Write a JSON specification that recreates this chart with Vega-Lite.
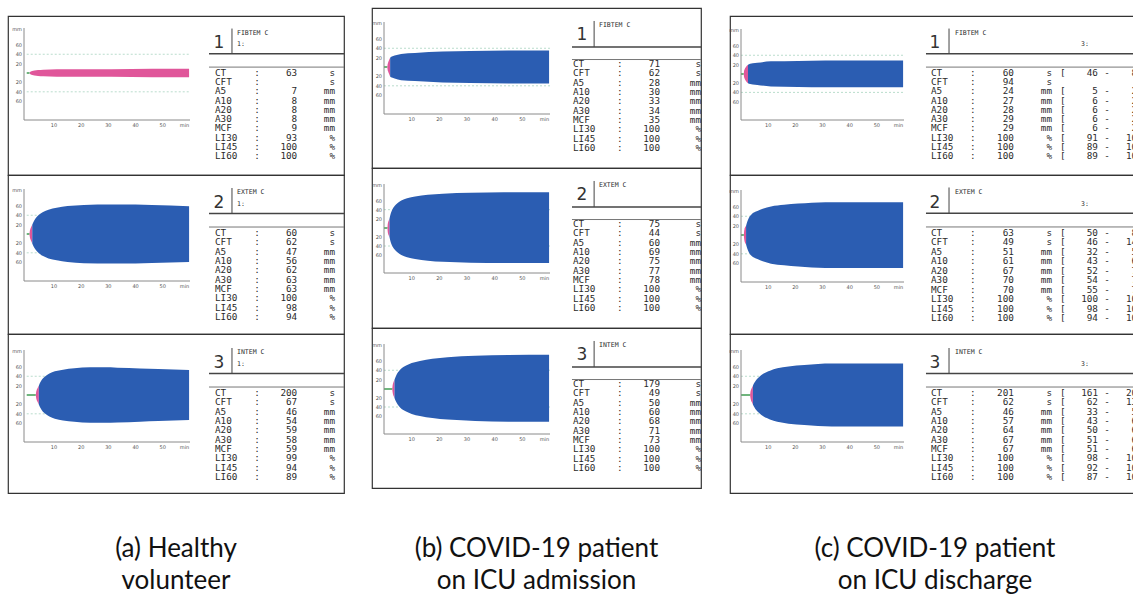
{
"$schema": "https://vega.github.io/schema/vega-lite/v6.json",
"background": "white",
"padding": {"left": 7, "top": 7, "right": 0, "bottom": 0},
"spacing": 25,
"config": {
"view": {"stroke": "#333333", "strokeWidth": 1.2},
"text": {"font": "DejaVu Sans Mono", "fontSize": 9.3, "baseline": "middle", "color": "#2b2b2b"},
"area": {"interpolate": "monotone", "opacity": 1}
},
"datasets": {
"xticks": [{"v": 600, "lab": "10"}, {"v": 1200, "lab": "20"}, {"v": 1800, "lab": "30"}, {"v": 2400, "lab": "40"}, {"v": 3000, "lab": "50"}, {"v": 3480, "lab": "min"}],
"yticks": [{"v": 20, "lab": "20"}, {"v": 40, "lab": "40"}, {"v": 60, "lab": "60"}, {"v": 93, "lab": "mm"}],
"caps": [
{"p": "a", "caption": "(a) Healthy\nvolunteer"},
{"p": "b", "caption": "(b) COVID-19 patient\non ICU admission"},
{"p": "c", "caption": "(c) COVID-19 patient\non ICU discharge"}
],
"rows": [
{"p":"a","kind":"head","test":"FIBTEM","num":"1","name":"FIBTEM C","sub":"1:","ct":63},
{"p":"a","kind":"head","test":"EXTEM","num":"2","name":"EXTEM C","sub":"1:","ct":60},
{"p":"a","kind":"head","test":"INTEM","num":"3","name":"INTEM C","sub":"1:","ct":200},
{"p":"b","kind":"head","test":"FIBTEM","num":"1","name":"FIBTEM C","ct":71},
{"p":"b","kind":"head","test":"EXTEM","num":"2","name":"EXTEM C","ct":75},
{"p":"b","kind":"head","test":"INTEM","num":"3","name":"INTEM C","ct":179},
{"p":"c","kind":"head","test":"FIBTEM","num":"1","name":"FIBTEM C","sub":"3:","ct":60},
{"p":"c","kind":"head","test":"EXTEM","num":"2","name":"EXTEM C","sub":"3:","ct":63},
{"p":"c","kind":"head","test":"INTEM","num":"3","name":"INTEM C","sub":"3:","ct":201},

{"p":"a","kind":"curve","test":"FIBTEM","ph":"CFT","t":63,"amp":0},
{"p":"a","kind":"curve","test":"FIBTEM","ph":"CFT","t":72,"amp":1.5},
{"p":"a","kind":"curve","test":"FIBTEM","ph":"CFT","t":90,"amp":3},
{"p":"a","kind":"curve","test":"FIBTEM","ph":"CFT","t":120,"amp":4.3},
{"p":"a","kind":"curve","test":"FIBTEM","ph":"CFT","t":170,"amp":5.4},
{"p":"a","kind":"curve","test":"FIBTEM","ph":"CFT","t":250,"amp":6.3},
{"p":"a","kind":"curve","test":"FIBTEM","ph":"CFT","t":363,"amp":7},
{"p":"a","kind":"curve","test":"FIBTEM","ph":"CFT","t":663,"amp":8},
{"p":"a","kind":"curve","test":"FIBTEM","ph":"CFT","t":1263,"amp":8},
{"p":"a","kind":"curve","test":"FIBTEM","ph":"CFT","t":1863,"amp":8.2},
{"p":"a","kind":"curve","test":"FIBTEM","ph":"CFT","t":2763,"amp":9},
{"p":"a","kind":"curve","test":"FIBTEM","ph":"CFT","t":3580,"amp":9},

{"p":"a","kind":"curve","test":"EXTEM","ph":"CFT","t":60,"amp":0},
{"p":"a","kind":"curve","test":"EXTEM","ph":"CFT","t":66,"amp":5},
{"p":"a","kind":"curve","test":"EXTEM","ph":"CFT","t":78,"amp":10},
{"p":"a","kind":"curve","test":"EXTEM","ph":"CFT","t":98,"amp":15},
{"p":"a","kind":"curve","test":"EXTEM","ph":"CFT","t":122,"amp":20},
{"p":"a","kind":"curve","test":"EXTEM","ph":"MCF","t":122,"amp":20},
{"p":"a","kind":"curve","test":"EXTEM","ph":"MCF","t":160,"amp":28},
{"p":"a","kind":"curve","test":"EXTEM","ph":"MCF","t":210,"amp":35},
{"p":"a","kind":"curve","test":"EXTEM","ph":"MCF","t":270,"amp":41},
{"p":"a","kind":"curve","test":"EXTEM","ph":"MCF","t":360,"amp":47},
{"p":"a","kind":"curve","test":"EXTEM","ph":"MCF","t":480,"amp":52},
{"p":"a","kind":"curve","test":"EXTEM","ph":"MCF","t":660,"amp":56},
{"p":"a","kind":"curve","test":"EXTEM","ph":"MCF","t":900,"amp":59.5},
{"p":"a","kind":"curve","test":"EXTEM","ph":"MCF","t":1260,"amp":62},
{"p":"a","kind":"curve","test":"EXTEM","ph":"MCF","t":1860,"amp":63},
{"p":"a","kind":"curve","test":"EXTEM","ph":"MCF","t":2400,"amp":62.8},
{"p":"a","kind":"curve","test":"EXTEM","ph":"MCF","t":2760,"amp":61.7},
{"p":"a","kind":"curve","test":"EXTEM","ph":"MCF","t":3580,"amp":59.4},

{"p":"a","kind":"curve","test":"INTEM","ph":"CFT","t":200,"amp":0},
{"p":"a","kind":"curve","test":"INTEM","ph":"CFT","t":206,"amp":5},
{"p":"a","kind":"curve","test":"INTEM","ph":"CFT","t":218,"amp":10},
{"p":"a","kind":"curve","test":"INTEM","ph":"CFT","t":240,"amp":15},
{"p":"a","kind":"curve","test":"INTEM","ph":"CFT","t":267,"amp":20},
{"p":"a","kind":"curve","test":"INTEM","ph":"MCF","t":267,"amp":20},
{"p":"a","kind":"curve","test":"INTEM","ph":"MCF","t":300,"amp":27},
{"p":"a","kind":"curve","test":"INTEM","ph":"MCF","t":345,"amp":34},
{"p":"a","kind":"curve","test":"INTEM","ph":"MCF","t":410,"amp":40},
{"p":"a","kind":"curve","test":"INTEM","ph":"MCF","t":500,"amp":46},
{"p":"a","kind":"curve","test":"INTEM","ph":"MCF","t":620,"amp":50.5},
{"p":"a","kind":"curve","test":"INTEM","ph":"MCF","t":800,"amp":54},
{"p":"a","kind":"curve","test":"INTEM","ph":"MCF","t":1050,"amp":57},
{"p":"a","kind":"curve","test":"INTEM","ph":"MCF","t":1400,"amp":59},
{"p":"a","kind":"curve","test":"INTEM","ph":"MCF","t":1700,"amp":59},
{"p":"a","kind":"curve","test":"INTEM","ph":"MCF","t":2000,"amp":58.4},
{"p":"a","kind":"curve","test":"INTEM","ph":"MCF","t":2500,"amp":56.8},
{"p":"a","kind":"curve","test":"INTEM","ph":"MCF","t":2900,"amp":55.5},
{"p":"a","kind":"curve","test":"INTEM","ph":"MCF","t":3580,"amp":53.2},

{"p":"b","kind":"curve","test":"FIBTEM","ph":"CFT","t":71,"amp":0},
{"p":"b","kind":"curve","test":"FIBTEM","ph":"CFT","t":76,"amp":4},
{"p":"b","kind":"curve","test":"FIBTEM","ph":"CFT","t":88,"amp":9},
{"p":"b","kind":"curve","test":"FIBTEM","ph":"CFT","t":106,"amp":14},
{"p":"b","kind":"curve","test":"FIBTEM","ph":"CFT","t":133,"amp":20},
{"p":"b","kind":"curve","test":"FIBTEM","ph":"MCF","t":133,"amp":20},
{"p":"b","kind":"curve","test":"FIBTEM","ph":"MCF","t":170,"amp":22.5},
{"p":"b","kind":"curve","test":"FIBTEM","ph":"MCF","t":230,"amp":24.5},
{"p":"b","kind":"curve","test":"FIBTEM","ph":"MCF","t":371,"amp":28},
{"p":"b","kind":"curve","test":"FIBTEM","ph":"MCF","t":671,"amp":30},
{"p":"b","kind":"curve","test":"FIBTEM","ph":"MCF","t":1271,"amp":33},
{"p":"b","kind":"curve","test":"FIBTEM","ph":"MCF","t":1871,"amp":34},
{"p":"b","kind":"curve","test":"FIBTEM","ph":"MCF","t":2700,"amp":35},
{"p":"b","kind":"curve","test":"FIBTEM","ph":"MCF","t":3580,"amp":35},

{"p":"b","kind":"curve","test":"EXTEM","ph":"CFT","t":75,"amp":0},
{"p":"b","kind":"curve","test":"EXTEM","ph":"CFT","t":79,"amp":6},
{"p":"b","kind":"curve","test":"EXTEM","ph":"CFT","t":88,"amp":12},
{"p":"b","kind":"curve","test":"EXTEM","ph":"CFT","t":101,"amp":16},
{"p":"b","kind":"curve","test":"EXTEM","ph":"CFT","t":119,"amp":20},
{"p":"b","kind":"curve","test":"EXTEM","ph":"MCF","t":119,"amp":20},
{"p":"b","kind":"curve","test":"EXTEM","ph":"MCF","t":145,"amp":31},
{"p":"b","kind":"curve","test":"EXTEM","ph":"MCF","t":180,"amp":40},
{"p":"b","kind":"curve","test":"EXTEM","ph":"MCF","t":230,"amp":48},
{"p":"b","kind":"curve","test":"EXTEM","ph":"MCF","t":290,"amp":54},
{"p":"b","kind":"curve","test":"EXTEM","ph":"MCF","t":375,"amp":60},
{"p":"b","kind":"curve","test":"EXTEM","ph":"MCF","t":500,"amp":65},
{"p":"b","kind":"curve","test":"EXTEM","ph":"MCF","t":675,"amp":69},
{"p":"b","kind":"curve","test":"EXTEM","ph":"MCF","t":950,"amp":72.5},
{"p":"b","kind":"curve","test":"EXTEM","ph":"MCF","t":1275,"amp":75},
{"p":"b","kind":"curve","test":"EXTEM","ph":"MCF","t":1875,"amp":77},
{"p":"b","kind":"curve","test":"EXTEM","ph":"MCF","t":2600,"amp":78},
{"p":"b","kind":"curve","test":"EXTEM","ph":"MCF","t":3580,"amp":78},

{"p":"b","kind":"curve","test":"INTEM","ph":"CFT","t":179,"amp":0},
{"p":"b","kind":"curve","test":"INTEM","ph":"CFT","t":184,"amp":5},
{"p":"b","kind":"curve","test":"INTEM","ph":"CFT","t":194,"amp":11},
{"p":"b","kind":"curve","test":"INTEM","ph":"CFT","t":208,"amp":15.5},
{"p":"b","kind":"curve","test":"INTEM","ph":"CFT","t":228,"amp":20},
{"p":"b","kind":"curve","test":"INTEM","ph":"MCF","t":228,"amp":20},
{"p":"b","kind":"curve","test":"INTEM","ph":"MCF","t":260,"amp":28},
{"p":"b","kind":"curve","test":"INTEM","ph":"MCF","t":300,"amp":35},
{"p":"b","kind":"curve","test":"INTEM","ph":"MCF","t":360,"amp":42},
{"p":"b","kind":"curve","test":"INTEM","ph":"MCF","t":479,"amp":50},
{"p":"b","kind":"curve","test":"INTEM","ph":"MCF","t":600,"amp":55.5},
{"p":"b","kind":"curve","test":"INTEM","ph":"MCF","t":779,"amp":60},
{"p":"b","kind":"curve","test":"INTEM","ph":"MCF","t":1050,"amp":64.5},
{"p":"b","kind":"curve","test":"INTEM","ph":"MCF","t":1379,"amp":68},
{"p":"b","kind":"curve","test":"INTEM","ph":"MCF","t":1979,"amp":71},
{"p":"b","kind":"curve","test":"INTEM","ph":"MCF","t":2700,"amp":72.5},
{"p":"b","kind":"curve","test":"INTEM","ph":"MCF","t":3580,"amp":73},

{"p":"c","kind":"curve","test":"FIBTEM","ph":"CFT","t":60,"amp":0},
{"p":"c","kind":"curve","test":"FIBTEM","ph":"CFT","t":66,"amp":5},
{"p":"c","kind":"curve","test":"FIBTEM","ph":"CFT","t":80,"amp":10},
{"p":"c","kind":"curve","test":"FIBTEM","ph":"CFT","t":105,"amp":14.5},
{"p":"c","kind":"curve","test":"FIBTEM","ph":"CFT","t":154,"amp":20},
{"p":"c","kind":"curve","test":"FIBTEM","ph":"MCF","t":154,"amp":20},
{"p":"c","kind":"curve","test":"FIBTEM","ph":"MCF","t":200,"amp":21.8},
{"p":"c","kind":"curve","test":"FIBTEM","ph":"MCF","t":260,"amp":23},
{"p":"c","kind":"curve","test":"FIBTEM","ph":"MCF","t":360,"amp":24},
{"p":"c","kind":"curve","test":"FIBTEM","ph":"MCF","t":660,"amp":27},
{"p":"c","kind":"curve","test":"FIBTEM","ph":"MCF","t":1260,"amp":28},
{"p":"c","kind":"curve","test":"FIBTEM","ph":"MCF","t":1860,"amp":29},
{"p":"c","kind":"curve","test":"FIBTEM","ph":"MCF","t":3580,"amp":29},

{"p":"c","kind":"curve","test":"EXTEM","ph":"CFT","t":63,"amp":0},
{"p":"c","kind":"curve","test":"EXTEM","ph":"CFT","t":67,"amp":6},
{"p":"c","kind":"curve","test":"EXTEM","ph":"CFT","t":76,"amp":12},
{"p":"c","kind":"curve","test":"EXTEM","ph":"CFT","t":90,"amp":16.5},
{"p":"c","kind":"curve","test":"EXTEM","ph":"CFT","t":112,"amp":20},
{"p":"c","kind":"curve","test":"EXTEM","ph":"MCF","t":112,"amp":20},
{"p":"c","kind":"curve","test":"EXTEM","ph":"MCF","t":140,"amp":29},
{"p":"c","kind":"curve","test":"EXTEM","ph":"MCF","t":175,"amp":37},
{"p":"c","kind":"curve","test":"EXTEM","ph":"MCF","t":230,"amp":44},
{"p":"c","kind":"curve","test":"EXTEM","ph":"MCF","t":363,"amp":51},
{"p":"c","kind":"curve","test":"EXTEM","ph":"MCF","t":480,"amp":56},
{"p":"c","kind":"curve","test":"EXTEM","ph":"MCF","t":663,"amp":61},
{"p":"c","kind":"curve","test":"EXTEM","ph":"MCF","t":950,"amp":64.5},
{"p":"c","kind":"curve","test":"EXTEM","ph":"MCF","t":1263,"amp":67},
{"p":"c","kind":"curve","test":"EXTEM","ph":"MCF","t":1863,"amp":70},
{"p":"c","kind":"curve","test":"EXTEM","ph":"MCF","t":3580,"amp":70},

{"p":"c","kind":"curve","test":"INTEM","ph":"CFT","t":201,"amp":0},
{"p":"c","kind":"curve","test":"INTEM","ph":"CFT","t":207,"amp":5},
{"p":"c","kind":"curve","test":"INTEM","ph":"CFT","t":219,"amp":10.5},
{"p":"c","kind":"curve","test":"INTEM","ph":"CFT","t":238,"amp":15},
{"p":"c","kind":"curve","test":"INTEM","ph":"CFT","t":263,"amp":20},
{"p":"c","kind":"curve","test":"INTEM","ph":"MCF","t":263,"amp":20},
{"p":"c","kind":"curve","test":"INTEM","ph":"MCF","t":295,"amp":26},
{"p":"c","kind":"curve","test":"INTEM","ph":"MCF","t":340,"amp":32.5},
{"p":"c","kind":"curve","test":"INTEM","ph":"MCF","t":400,"amp":38.5},
{"p":"c","kind":"curve","test":"INTEM","ph":"MCF","t":501,"amp":46},
{"p":"c","kind":"curve","test":"INTEM","ph":"MCF","t":640,"amp":52},
{"p":"c","kind":"curve","test":"INTEM","ph":"MCF","t":801,"amp":57},
{"p":"c","kind":"curve","test":"INTEM","ph":"MCF","t":1050,"amp":61},
{"p":"c","kind":"curve","test":"INTEM","ph":"MCF","t":1401,"amp":64},
{"p":"c","kind":"curve","test":"INTEM","ph":"MCF","t":2001,"amp":67},
{"p":"c","kind":"curve","test":"INTEM","ph":"MCF","t":3580,"amp":67},

{"p":"a","kind":"param","test":"FIBTEM","param":"CT","val":63,"unit":"s"},
{"p":"a","kind":"param","test":"FIBTEM","param":"CFT","val":null,"unit":"s"},
{"p":"a","kind":"param","test":"FIBTEM","param":"A5","val":7,"unit":"mm"},
{"p":"a","kind":"param","test":"FIBTEM","param":"A10","val":8,"unit":"mm"},
{"p":"a","kind":"param","test":"FIBTEM","param":"A20","val":8,"unit":"mm"},
{"p":"a","kind":"param","test":"FIBTEM","param":"A30","val":8,"unit":"mm"},
{"p":"a","kind":"param","test":"FIBTEM","param":"MCF","val":9,"unit":"mm"},
{"p":"a","kind":"param","test":"FIBTEM","param":"LI30","val":93,"unit":"%"},
{"p":"a","kind":"param","test":"FIBTEM","param":"LI45","val":100,"unit":"%"},
{"p":"a","kind":"param","test":"FIBTEM","param":"LI60","val":100,"unit":"%"},
{"p":"a","kind":"param","test":"EXTEM","param":"CT","val":60,"unit":"s"},
{"p":"a","kind":"param","test":"EXTEM","param":"CFT","val":62,"unit":"s"},
{"p":"a","kind":"param","test":"EXTEM","param":"A5","val":47,"unit":"mm"},
{"p":"a","kind":"param","test":"EXTEM","param":"A10","val":56,"unit":"mm"},
{"p":"a","kind":"param","test":"EXTEM","param":"A20","val":62,"unit":"mm"},
{"p":"a","kind":"param","test":"EXTEM","param":"A30","val":63,"unit":"mm"},
{"p":"a","kind":"param","test":"EXTEM","param":"MCF","val":63,"unit":"mm"},
{"p":"a","kind":"param","test":"EXTEM","param":"LI30","val":100,"unit":"%"},
{"p":"a","kind":"param","test":"EXTEM","param":"LI45","val":98,"unit":"%"},
{"p":"a","kind":"param","test":"EXTEM","param":"LI60","val":94,"unit":"%"},
{"p":"a","kind":"param","test":"INTEM","param":"CT","val":200,"unit":"s"},
{"p":"a","kind":"param","test":"INTEM","param":"CFT","val":67,"unit":"s"},
{"p":"a","kind":"param","test":"INTEM","param":"A5","val":46,"unit":"mm"},
{"p":"a","kind":"param","test":"INTEM","param":"A10","val":54,"unit":"mm"},
{"p":"a","kind":"param","test":"INTEM","param":"A20","val":59,"unit":"mm"},
{"p":"a","kind":"param","test":"INTEM","param":"A30","val":58,"unit":"mm"},
{"p":"a","kind":"param","test":"INTEM","param":"MCF","val":59,"unit":"mm"},
{"p":"a","kind":"param","test":"INTEM","param":"LI30","val":99,"unit":"%"},
{"p":"a","kind":"param","test":"INTEM","param":"LI45","val":94,"unit":"%"},
{"p":"a","kind":"param","test":"INTEM","param":"LI60","val":89,"unit":"%"},

{"p":"b","kind":"param","test":"FIBTEM","param":"CT","val":71,"unit":"s"},
{"p":"b","kind":"param","test":"FIBTEM","param":"CFT","val":62,"unit":"s"},
{"p":"b","kind":"param","test":"FIBTEM","param":"A5","val":28,"unit":"mm"},
{"p":"b","kind":"param","test":"FIBTEM","param":"A10","val":30,"unit":"mm"},
{"p":"b","kind":"param","test":"FIBTEM","param":"A20","val":33,"unit":"mm"},
{"p":"b","kind":"param","test":"FIBTEM","param":"A30","val":34,"unit":"mm"},
{"p":"b","kind":"param","test":"FIBTEM","param":"MCF","val":35,"unit":"mm"},
{"p":"b","kind":"param","test":"FIBTEM","param":"LI30","val":100,"unit":"%"},
{"p":"b","kind":"param","test":"FIBTEM","param":"LI45","val":100,"unit":"%"},
{"p":"b","kind":"param","test":"FIBTEM","param":"LI60","val":100,"unit":"%"},
{"p":"b","kind":"param","test":"EXTEM","param":"CT","val":75,"unit":"s"},
{"p":"b","kind":"param","test":"EXTEM","param":"CFT","val":44,"unit":"s"},
{"p":"b","kind":"param","test":"EXTEM","param":"A5","val":60,"unit":"mm"},
{"p":"b","kind":"param","test":"EXTEM","param":"A10","val":69,"unit":"mm"},
{"p":"b","kind":"param","test":"EXTEM","param":"A20","val":75,"unit":"mm"},
{"p":"b","kind":"param","test":"EXTEM","param":"A30","val":77,"unit":"mm"},
{"p":"b","kind":"param","test":"EXTEM","param":"MCF","val":78,"unit":"mm"},
{"p":"b","kind":"param","test":"EXTEM","param":"LI30","val":100,"unit":"%"},
{"p":"b","kind":"param","test":"EXTEM","param":"LI45","val":100,"unit":"%"},
{"p":"b","kind":"param","test":"EXTEM","param":"LI60","val":100,"unit":"%"},
{"p":"b","kind":"param","test":"INTEM","param":"CT","val":179,"unit":"s"},
{"p":"b","kind":"param","test":"INTEM","param":"CFT","val":49,"unit":"s"},
{"p":"b","kind":"param","test":"INTEM","param":"A5","val":50,"unit":"mm"},
{"p":"b","kind":"param","test":"INTEM","param":"A10","val":60,"unit":"mm"},
{"p":"b","kind":"param","test":"INTEM","param":"A20","val":68,"unit":"mm"},
{"p":"b","kind":"param","test":"INTEM","param":"A30","val":71,"unit":"mm"},
{"p":"b","kind":"param","test":"INTEM","param":"MCF","val":73,"unit":"mm"},
{"p":"b","kind":"param","test":"INTEM","param":"LI30","val":100,"unit":"%"},
{"p":"b","kind":"param","test":"INTEM","param":"LI45","val":100,"unit":"%"},
{"p":"b","kind":"param","test":"INTEM","param":"LI60","val":100,"unit":"%"},

{"p":"c","kind":"param","test":"FIBTEM","param":"CT","val":60,"unit":"s","lo":46,"hi":84},
{"p":"c","kind":"param","test":"FIBTEM","param":"CFT","val":94,"unit":"s"},
{"p":"c","kind":"param","test":"FIBTEM","param":"A5","val":24,"unit":"mm","lo":5,"hi":20},
{"p":"c","kind":"param","test":"FIBTEM","param":"A10","val":27,"unit":"mm","lo":6,"hi":21},
{"p":"c","kind":"param","test":"FIBTEM","param":"A20","val":28,"unit":"mm","lo":6,"hi":21},
{"p":"c","kind":"param","test":"FIBTEM","param":"A30","val":29,"unit":"mm","lo":6,"hi":21},
{"p":"c","kind":"param","test":"FIBTEM","param":"MCF","val":29,"unit":"mm","lo":6,"hi":21},
{"p":"c","kind":"param","test":"FIBTEM","param":"LI30","val":100,"unit":"%","lo":91,"hi":100},
{"p":"c","kind":"param","test":"FIBTEM","param":"LI45","val":100,"unit":"%","lo":89,"hi":100},
{"p":"c","kind":"param","test":"FIBTEM","param":"LI60","val":100,"unit":"%","lo":89,"hi":100},
{"p":"c","kind":"param","test":"EXTEM","param":"CT","val":63,"unit":"s","lo":50,"hi":80},
{"p":"c","kind":"param","test":"EXTEM","param":"CFT","val":49,"unit":"s","lo":46,"hi":149},
{"p":"c","kind":"param","test":"EXTEM","param":"A5","val":51,"unit":"mm","lo":32,"hi":52},
{"p":"c","kind":"param","test":"EXTEM","param":"A10","val":61,"unit":"mm","lo":43,"hi":63},
{"p":"c","kind":"param","test":"EXTEM","param":"A20","val":67,"unit":"mm","lo":52,"hi":70},
{"p":"c","kind":"param","test":"EXTEM","param":"A30","val":70,"unit":"mm","lo":54,"hi":72},
{"p":"c","kind":"param","test":"EXTEM","param":"MCF","val":70,"unit":"mm","lo":55,"hi":72},
{"p":"c","kind":"param","test":"EXTEM","param":"LI30","val":100,"unit":"%","lo":100,"hi":100},
{"p":"c","kind":"param","test":"EXTEM","param":"LI45","val":100,"unit":"%","lo":98,"hi":100},
{"p":"c","kind":"param","test":"EXTEM","param":"LI60","val":100,"unit":"%","lo":94,"hi":100},
{"p":"c","kind":"param","test":"INTEM","param":"CT","val":201,"unit":"s","lo":161,"hi":204},
{"p":"c","kind":"param","test":"INTEM","param":"CFT","val":62,"unit":"s","lo":62,"hi":130},
{"p":"c","kind":"param","test":"INTEM","param":"A5","val":46,"unit":"mm","lo":33,"hi":54},
{"p":"c","kind":"param","test":"INTEM","param":"A10","val":57,"unit":"mm","lo":43,"hi":64},
{"p":"c","kind":"param","test":"INTEM","param":"A20","val":64,"unit":"mm","lo":50,"hi":68},
{"p":"c","kind":"param","test":"INTEM","param":"A30","val":67,"unit":"mm","lo":51,"hi":69},
{"p":"c","kind":"param","test":"INTEM","param":"MCF","val":67,"unit":"mm","lo":51,"hi":69},
{"p":"c","kind":"param","test":"INTEM","param":"LI30","val":100,"unit":"%","lo":98,"hi":100},
{"p":"c","kind":"param","test":"INTEM","param":"LI45","val":100,"unit":"%","lo":92,"hi":100},
{"p":"c","kind":"param","test":"INTEM","param":"LI60","val":100,"unit":"%","lo":87,"hi":100}
]
},
"hconcat": [
{"spacing": 0, "bounds": "flush", "vconcat": [
{"width": 336, "height": 8, "data": {"values": [{}]}, "mark": {"type": "text"}, "encoding": {"text": {"value": ""}}},

{"width": 336, "height": 159, "data": {"name": "rows"}, "transform": [{"filter": "datum.p == 'a' && datum.test == 'FIBTEM'"}],
"layer": [
{"layer": [
{"layer": [
{"transform": [{"filter": "datum.kind == 'head'"}], "mark": {"type": "rule", "color": "#a8d4c0", "strokeWidth": 0.8, "strokeDash": [2, 2]}, "encoding": {"x": {"datum": 0, "type": "quantitative", "axis": null}, "x2": {"datum": 3600}, "y": {"datum": 40, "type": "quantitative", "axis": null}}},
{"transform": [{"filter": "datum.kind == 'curve'"}], "mark": "area", "encoding": {"x": {"field": "t", "type": "quantitative", "scale": {"domain": [-60, 3600], "range": [16, 182], "nice": false, "zero": false}, "axis": null}, "y": {"field": "amp", "type": "quantitative", "stack": null, "scale": {"domain": [0, 96], "range": [57, 12], "nice": false, "zero": false}, "axis": null}, "y2": {"datum": 0}, "color": {"field": "ph", "type": "nominal", "scale": {"domain": ["CFT", "MCF"], "range": ["#e0569a", "#2b5db2"]}, "legend": null}}},
{"transform": [{"filter": "datum.kind == 'head'"}], "mark": {"type": "rule", "color": "#3f9c52", "strokeWidth": 1.5}, "encoding": {"x": {"field": "ct", "type": "quantitative", "axis": null}, "x2": {"datum": 0}, "y": {"datum": 0, "type": "quantitative", "axis": null}}},
{"transform": [{"filter": "datum.kind == 'head'"}], "mark": {"type": "rule", "color": "#8a8a8a", "strokeWidth": 1}, "encoding": {"x": {"datum": -60, "type": "quantitative", "axis": null}, "y": {"datum": 0, "type": "quantitative", "axis": null}, "y2": {"datum": 96}}},
{"data": {"name": "yticks"}, "mark": {"type": "text", "font": "DejaVu Sans", "fontSize": 5, "color": "#555555", "align": "right", "dx": -2}, "encoding": {"x": {"datum": -60, "type": "quantitative", "axis": null}, "y": {"field": "v", "type": "quantitative", "axis": null}, "text": {"field": "lab", "type": "nominal"}}}
]},
{"layer": [
{"transform": [{"filter": "datum.kind == 'head'"}], "mark": {"type": "rule", "color": "#a8d4c0", "strokeWidth": 0.8, "strokeDash": [2, 2]}, "encoding": {"x": {"datum": 0, "type": "quantitative", "axis": null}, "x2": {"datum": 3600}, "y": {"datum": 40, "type": "quantitative", "axis": null}}},
{"transform": [{"filter": "datum.kind == 'curve'"}], "mark": "area", "encoding": {"x": {"field": "t", "type": "quantitative", "axis": null}, "y": {"field": "amp", "type": "quantitative", "stack": null, "scale": {"domain": [0, 100], "range": [57, 104], "nice": false, "zero": false}, "axis": null}, "y2": {"datum": 0}, "color": {"field": "ph", "type": "nominal", "legend": null}}},
{"transform": [{"filter": "datum.kind == 'head'"}], "mark": {"type": "rule", "color": "#8a8a8a", "strokeWidth": 1}, "encoding": {"x": {"datum": -60, "type": "quantitative", "axis": null}, "y": {"datum": 0, "type": "quantitative", "axis": null}, "y2": {"datum": 100}}},
{"transform": [{"filter": "datum.kind == 'head'"}], "mark": {"type": "rule", "color": "#8a8a8a", "strokeWidth": 1}, "encoding": {"x": {"datum": -60, "type": "quantitative", "axis": null}, "x2": {"datum": 3600}, "y": {"datum": 100, "type": "quantitative", "axis": null}}},
{"data": {"name": "yticks"}, "transform": [{"filter": "datum.v < 90"}], "mark": {"type": "text", "font": "DejaVu Sans", "fontSize": 5, "color": "#555555", "align": "right", "dx": -2}, "encoding": {"x": {"datum": -60, "type": "quantitative", "axis": null}, "y": {"field": "v", "type": "quantitative", "axis": null}, "text": {"field": "lab", "type": "nominal"}}},
{"data": {"name": "xticks"}, "mark": {"type": "text", "font": "DejaVu Sans", "fontSize": 5, "color": "#555555", "align": "center", "baseline": "top", "dy": 3}, "encoding": {"x": {"field": "v", "type": "quantitative", "axis": null}, "y": {"datum": 100, "type": "quantitative", "axis": null}, "text": {"field": "lab", "type": "nominal"}}}
]}
], "resolve": {"scale": {"y": "independent"}}},
{"transform": [{"filter": "datum.kind == 'param'"}],
"encoding": {"y": {"field": "param", "type": "ordinal", "scale": {"type": "point", "domain": ["CT", "CFT", "A5", "A10", "A20", "A30", "MCF", "LI30", "LI45", "LI60"], "range": [57, 140], "padding": 0}, "axis": null}},
"layer": [
{"mark": {"type": "text", "align": "left"}, "encoding": {"x": {"datum": 0, "type": "quantitative", "scale": {"domain": [0, 20], "range": [207, 327], "nice": false, "zero": false}, "axis": null}, "text": {"field": "param", "type": "nominal"}}},
{"mark": {"type": "text", "align": "center"}, "encoding": {"x": {"datum": 7, "type": "quantitative", "axis": null}, "text": {"value": ":"}}},
{"transform": [{"filter": "isValid(datum.val)"}], "mark": {"type": "text", "align": "right"}, "encoding": {"x": {"datum": 13.7, "type": "quantitative", "axis": null}, "text": {"field": "val", "type": "nominal"}}},
{"mark": {"type": "text", "align": "right"}, "encoding": {"x": {"datum": 20, "type": "quantitative", "axis": null}, "text": {"field": "unit", "type": "nominal"}}}
]},
{"transform": [{"filter": "datum.kind == 'head'"}],
"layer": [
{"mark": {"type": "text", "font": "DejaVu Sans", "fontSize": 17, "align": "center", "color": "#333333"}, "encoding": {"x": {"datum": 0.67, "type": "quantitative", "scale": {"domain": [0, 20], "range": [207, 327], "nice": false, "zero": false}, "axis": null}, "y": {"datum": -3.2, "type": "quantitative", "scale": {"domain": [0, 9], "range": [57, 140], "nice": false, "zero": false}, "axis": null}, "text": {"field": "num", "type": "nominal"}}},
{"mark": {"type": "text", "fontSize": 6.5, "align": "left"}, "encoding": {"x": {"datum": 3.67, "type": "quantitative", "axis": null}, "y": {"datum": -4.39, "type": "quantitative", "axis": null}, "text": {"field": "name", "type": "nominal"}}},
{"mark": {"type": "text", "fontSize": 6.5, "align": "left"}, "encoding": {"x": {"datum": 3.67, "type": "quantitative", "axis": null}, "y": {"datum": -3.11, "type": "quantitative", "axis": null}, "text": {"field": "sub", "type": "nominal"}}},
{"mark": {"type": "rule", "color": "#444444", "strokeWidth": 1}, "encoding": {"x": {"datum": 2.83, "type": "quantitative", "axis": null}, "y": {"datum": -4.82, "type": "quantitative", "axis": null}, "y2": {"datum": -2.09}}},
{"mark": {"type": "rule", "color": "#444444", "strokeWidth": 1.5}, "encoding": {"x": {"datum": -1, "type": "quantitative", "axis": null}, "x2": {"datum": 21.5}, "y": {"datum": -2.09, "type": "quantitative", "axis": null}}},
{"mark": {"type": "rule", "color": "#777777", "strokeWidth": 1}, "encoding": {"x": {"datum": -1, "type": "quantitative", "axis": null}, "x2": {"datum": 21.5}, "y": {"datum": -0.64, "type": "quantitative", "axis": null}}}
]}
], "resolve": {"scale": {"x": "independent", "y": "independent"}}},

{"width": 336, "height": 159, "data": {"name": "rows"}, "transform": [{"filter": "datum.p == 'a' && datum.test == 'EXTEM'"}],
"layer": [
{"layer": [
{"layer": [
{"transform": [{"filter": "datum.kind == 'head'"}], "mark": {"type": "rule", "color": "#a8d4c0", "strokeWidth": 0.8, "strokeDash": [2, 2]}, "encoding": {"x": {"datum": 0, "type": "quantitative", "axis": null}, "x2": {"datum": 3600}, "y": {"datum": 40, "type": "quantitative", "axis": null}}},
{"transform": [{"filter": "datum.kind == 'curve'"}], "mark": "area", "encoding": {"x": {"field": "t", "type": "quantitative", "scale": {"domain": [-60, 3600], "range": [16, 182], "nice": false, "zero": false}, "axis": null}, "y": {"field": "amp", "type": "quantitative", "stack": null, "scale": {"domain": [0, 96], "range": [59, 14], "nice": false, "zero": false}, "axis": null}, "y2": {"datum": 0}, "color": {"field": "ph", "type": "nominal", "scale": {"domain": ["CFT", "MCF"], "range": ["#e0569a", "#2b5db2"]}, "legend": null}}},
{"transform": [{"filter": "datum.kind == 'head'"}], "mark": {"type": "rule", "color": "#3f9c52", "strokeWidth": 1.5}, "encoding": {"x": {"field": "ct", "type": "quantitative", "axis": null}, "x2": {"datum": 0}, "y": {"datum": 0, "type": "quantitative", "axis": null}}},
{"transform": [{"filter": "datum.kind == 'head'"}], "mark": {"type": "rule", "color": "#8a8a8a", "strokeWidth": 1}, "encoding": {"x": {"datum": -60, "type": "quantitative", "axis": null}, "y": {"datum": 0, "type": "quantitative", "axis": null}, "y2": {"datum": 96}}},
{"data": {"name": "yticks"}, "mark": {"type": "text", "font": "DejaVu Sans", "fontSize": 5, "color": "#555555", "align": "right", "dx": -2}, "encoding": {"x": {"datum": -60, "type": "quantitative", "axis": null}, "y": {"field": "v", "type": "quantitative", "axis": null}, "text": {"field": "lab", "type": "nominal"}}}
]},
{"layer": [
{"transform": [{"filter": "datum.kind == 'head'"}], "mark": {"type": "rule", "color": "#a8d4c0", "strokeWidth": 0.8, "strokeDash": [2, 2]}, "encoding": {"x": {"datum": 0, "type": "quantitative", "axis": null}, "x2": {"datum": 3600}, "y": {"datum": 40, "type": "quantitative", "axis": null}}},
{"transform": [{"filter": "datum.kind == 'curve'"}], "mark": "area", "encoding": {"x": {"field": "t", "type": "quantitative", "axis": null}, "y": {"field": "amp", "type": "quantitative", "stack": null, "scale": {"domain": [0, 100], "range": [59, 106], "nice": false, "zero": false}, "axis": null}, "y2": {"datum": 0}, "color": {"field": "ph", "type": "nominal", "legend": null}}},
{"transform": [{"filter": "datum.kind == 'head'"}], "mark": {"type": "rule", "color": "#8a8a8a", "strokeWidth": 1}, "encoding": {"x": {"datum": -60, "type": "quantitative", "axis": null}, "y": {"datum": 0, "type": "quantitative", "axis": null}, "y2": {"datum": 100}}},
{"transform": [{"filter": "datum.kind == 'head'"}], "mark": {"type": "rule", "color": "#8a8a8a", "strokeWidth": 1}, "encoding": {"x": {"datum": -60, "type": "quantitative", "axis": null}, "x2": {"datum": 3600}, "y": {"datum": 100, "type": "quantitative", "axis": null}}},
{"data": {"name": "yticks"}, "transform": [{"filter": "datum.v < 90"}], "mark": {"type": "text", "font": "DejaVu Sans", "fontSize": 5, "color": "#555555", "align": "right", "dx": -2}, "encoding": {"x": {"datum": -60, "type": "quantitative", "axis": null}, "y": {"field": "v", "type": "quantitative", "axis": null}, "text": {"field": "lab", "type": "nominal"}}},
{"data": {"name": "xticks"}, "mark": {"type": "text", "font": "DejaVu Sans", "fontSize": 5, "color": "#555555", "align": "center", "baseline": "top", "dy": 3}, "encoding": {"x": {"field": "v", "type": "quantitative", "axis": null}, "y": {"datum": 100, "type": "quantitative", "axis": null}, "text": {"field": "lab", "type": "nominal"}}}
]}
], "resolve": {"scale": {"y": "independent"}}},
{"transform": [{"filter": "datum.kind == 'param'"}],
"encoding": {"y": {"field": "param", "type": "ordinal", "scale": {"type": "point", "domain": ["CT", "CFT", "A5", "A10", "A20", "A30", "MCF", "LI30", "LI45", "LI60"], "range": [58, 142], "padding": 0}, "axis": null}},
"layer": [
{"mark": {"type": "text", "align": "left"}, "encoding": {"x": {"datum": 0, "type": "quantitative", "scale": {"domain": [0, 20], "range": [207, 327], "nice": false, "zero": false}, "axis": null}, "text": {"field": "param", "type": "nominal"}}},
{"mark": {"type": "text", "align": "center"}, "encoding": {"x": {"datum": 7, "type": "quantitative", "axis": null}, "text": {"value": ":"}}},
{"transform": [{"filter": "isValid(datum.val)"}], "mark": {"type": "text", "align": "right"}, "encoding": {"x": {"datum": 13.7, "type": "quantitative", "axis": null}, "text": {"field": "val", "type": "nominal"}}},
{"mark": {"type": "text", "align": "right"}, "encoding": {"x": {"datum": 20, "type": "quantitative", "axis": null}, "text": {"field": "unit", "type": "nominal"}}}
]},
{"transform": [{"filter": "datum.kind == 'head'"}],
"layer": [
{"mark": {"type": "text", "font": "DejaVu Sans", "fontSize": 17, "align": "center", "color": "#333333"}, "encoding": {"x": {"datum": 0.67, "type": "quantitative", "scale": {"domain": [0, 20], "range": [207, 327], "nice": false, "zero": false}, "axis": null}, "y": {"datum": -3.2, "type": "quantitative", "scale": {"domain": [0, 9], "range": [58, 142], "nice": false, "zero": false}, "axis": null}, "text": {"field": "num", "type": "nominal"}}},
{"mark": {"type": "text", "fontSize": 6.5, "align": "left"}, "encoding": {"x": {"datum": 3.67, "type": "quantitative", "axis": null}, "y": {"datum": -4.39, "type": "quantitative", "axis": null}, "text": {"field": "name", "type": "nominal"}}},
{"mark": {"type": "text", "fontSize": 6.5, "align": "left"}, "encoding": {"x": {"datum": 3.67, "type": "quantitative", "axis": null}, "y": {"datum": -3.11, "type": "quantitative", "axis": null}, "text": {"field": "sub", "type": "nominal"}}},
{"mark": {"type": "rule", "color": "#444444", "strokeWidth": 1}, "encoding": {"x": {"datum": 2.83, "type": "quantitative", "axis": null}, "y": {"datum": -4.82, "type": "quantitative", "axis": null}, "y2": {"datum": -2.09}}},
{"mark": {"type": "rule", "color": "#444444", "strokeWidth": 1.5}, "encoding": {"x": {"datum": -1, "type": "quantitative", "axis": null}, "x2": {"datum": 21.5}, "y": {"datum": -2.09, "type": "quantitative", "axis": null}}},
{"mark": {"type": "rule", "color": "#777777", "strokeWidth": 1}, "encoding": {"x": {"datum": -1, "type": "quantitative", "axis": null}, "x2": {"datum": 21.5}, "y": {"datum": -0.64, "type": "quantitative", "axis": null}}}
]}
], "resolve": {"scale": {"x": "independent", "y": "independent"}}},

{"width": 336, "height": 159, "data": {"name": "rows"}, "transform": [{"filter": "datum.p == 'a' && datum.test == 'INTEM'"}],
"layer": [
{"layer": [
{"layer": [
{"transform": [{"filter": "datum.kind == 'head'"}], "mark": {"type": "rule", "color": "#a8d4c0", "strokeWidth": 0.8, "strokeDash": [2, 2]}, "encoding": {"x": {"datum": 0, "type": "quantitative", "axis": null}, "x2": {"datum": 3600}, "y": {"datum": 40, "type": "quantitative", "axis": null}}},
{"transform": [{"filter": "datum.kind == 'curve'"}], "mark": "area", "encoding": {"x": {"field": "t", "type": "quantitative", "scale": {"domain": [-60, 3600], "range": [16, 182], "nice": false, "zero": false}, "axis": null}, "y": {"field": "amp", "type": "quantitative", "stack": null, "scale": {"domain": [0, 96], "range": [61, 16], "nice": false, "zero": false}, "axis": null}, "y2": {"datum": 0}, "color": {"field": "ph", "type": "nominal", "scale": {"domain": ["CFT", "MCF"], "range": ["#e0569a", "#2b5db2"]}, "legend": null}}},
{"transform": [{"filter": "datum.kind == 'head'"}], "mark": {"type": "rule", "color": "#3f9c52", "strokeWidth": 1.5}, "encoding": {"x": {"field": "ct", "type": "quantitative", "axis": null}, "x2": {"datum": 0}, "y": {"datum": 0, "type": "quantitative", "axis": null}}},
{"transform": [{"filter": "datum.kind == 'head'"}], "mark": {"type": "rule", "color": "#8a8a8a", "strokeWidth": 1}, "encoding": {"x": {"datum": -60, "type": "quantitative", "axis": null}, "y": {"datum": 0, "type": "quantitative", "axis": null}, "y2": {"datum": 96}}},
{"data": {"name": "yticks"}, "mark": {"type": "text", "font": "DejaVu Sans", "fontSize": 5, "color": "#555555", "align": "right", "dx": -2}, "encoding": {"x": {"datum": -60, "type": "quantitative", "axis": null}, "y": {"field": "v", "type": "quantitative", "axis": null}, "text": {"field": "lab", "type": "nominal"}}}
]},
{"layer": [
{"transform": [{"filter": "datum.kind == 'head'"}], "mark": {"type": "rule", "color": "#a8d4c0", "strokeWidth": 0.8, "strokeDash": [2, 2]}, "encoding": {"x": {"datum": 0, "type": "quantitative", "axis": null}, "x2": {"datum": 3600}, "y": {"datum": 40, "type": "quantitative", "axis": null}}},
{"transform": [{"filter": "datum.kind == 'curve'"}], "mark": "area", "encoding": {"x": {"field": "t", "type": "quantitative", "axis": null}, "y": {"field": "amp", "type": "quantitative", "stack": null, "scale": {"domain": [0, 100], "range": [61, 108], "nice": false, "zero": false}, "axis": null}, "y2": {"datum": 0}, "color": {"field": "ph", "type": "nominal", "legend": null}}},
{"transform": [{"filter": "datum.kind == 'head'"}], "mark": {"type": "rule", "color": "#8a8a8a", "strokeWidth": 1}, "encoding": {"x": {"datum": -60, "type": "quantitative", "axis": null}, "y": {"datum": 0, "type": "quantitative", "axis": null}, "y2": {"datum": 100}}},
{"transform": [{"filter": "datum.kind == 'head'"}], "mark": {"type": "rule", "color": "#8a8a8a", "strokeWidth": 1}, "encoding": {"x": {"datum": -60, "type": "quantitative", "axis": null}, "x2": {"datum": 3600}, "y": {"datum": 100, "type": "quantitative", "axis": null}}},
{"data": {"name": "yticks"}, "transform": [{"filter": "datum.v < 90"}], "mark": {"type": "text", "font": "DejaVu Sans", "fontSize": 5, "color": "#555555", "align": "right", "dx": -2}, "encoding": {"x": {"datum": -60, "type": "quantitative", "axis": null}, "y": {"field": "v", "type": "quantitative", "axis": null}, "text": {"field": "lab", "type": "nominal"}}},
{"data": {"name": "xticks"}, "mark": {"type": "text", "font": "DejaVu Sans", "fontSize": 5, "color": "#555555", "align": "center", "baseline": "top", "dy": 3}, "encoding": {"x": {"field": "v", "type": "quantitative", "axis": null}, "y": {"datum": 100, "type": "quantitative", "axis": null}, "text": {"field": "lab", "type": "nominal"}}}
]}
], "resolve": {"scale": {"y": "independent"}}},
{"transform": [{"filter": "datum.kind == 'param'"}],
"encoding": {"y": {"field": "param", "type": "ordinal", "scale": {"type": "point", "domain": ["CT", "CFT", "A5", "A10", "A20", "A30", "MCF", "LI30", "LI45", "LI60"], "range": [59, 143], "padding": 0}, "axis": null}},
"layer": [
{"mark": {"type": "text", "align": "left"}, "encoding": {"x": {"datum": 0, "type": "quantitative", "scale": {"domain": [0, 20], "range": [207, 327], "nice": false, "zero": false}, "axis": null}, "text": {"field": "param", "type": "nominal"}}},
{"mark": {"type": "text", "align": "center"}, "encoding": {"x": {"datum": 7, "type": "quantitative", "axis": null}, "text": {"value": ":"}}},
{"transform": [{"filter": "isValid(datum.val)"}], "mark": {"type": "text", "align": "right"}, "encoding": {"x": {"datum": 13.7, "type": "quantitative", "axis": null}, "text": {"field": "val", "type": "nominal"}}},
{"mark": {"type": "text", "align": "right"}, "encoding": {"x": {"datum": 20, "type": "quantitative", "axis": null}, "text": {"field": "unit", "type": "nominal"}}}
]},
{"transform": [{"filter": "datum.kind == 'head'"}],
"layer": [
{"mark": {"type": "text", "font": "DejaVu Sans", "fontSize": 17, "align": "center", "color": "#333333"}, "encoding": {"x": {"datum": 0.67, "type": "quantitative", "scale": {"domain": [0, 20], "range": [207, 327], "nice": false, "zero": false}, "axis": null}, "y": {"datum": -3.2, "type": "quantitative", "scale": {"domain": [0, 9], "range": [59, 143], "nice": false, "zero": false}, "axis": null}, "text": {"field": "num", "type": "nominal"}}},
{"mark": {"type": "text", "fontSize": 6.5, "align": "left"}, "encoding": {"x": {"datum": 3.67, "type": "quantitative", "axis": null}, "y": {"datum": -4.39, "type": "quantitative", "axis": null}, "text": {"field": "name", "type": "nominal"}}},
{"mark": {"type": "text", "fontSize": 6.5, "align": "left"}, "encoding": {"x": {"datum": 3.67, "type": "quantitative", "axis": null}, "y": {"datum": -3.11, "type": "quantitative", "axis": null}, "text": {"field": "sub", "type": "nominal"}}},
{"mark": {"type": "rule", "color": "#444444", "strokeWidth": 1}, "encoding": {"x": {"datum": 2.83, "type": "quantitative", "axis": null}, "y": {"datum": -4.82, "type": "quantitative", "axis": null}, "y2": {"datum": -2.09}}},
{"mark": {"type": "rule", "color": "#444444", "strokeWidth": 1.5}, "encoding": {"x": {"datum": -1, "type": "quantitative", "axis": null}, "x2": {"datum": 21.5}, "y": {"datum": -2.09, "type": "quantitative", "axis": null}}},
{"mark": {"type": "rule", "color": "#777777", "strokeWidth": 1}, "encoding": {"x": {"datum": -1, "type": "quantitative", "axis": null}, "x2": {"datum": 21.5}, "y": {"datum": -0.64, "type": "quantitative", "axis": null}}}
]}
], "resolve": {"scale": {"x": "independent", "y": "independent"}}},

{"width": 336, "height": 105, "view": {"stroke": null}, "data": {"name": "caps"}, "transform": [{"filter": "datum.p == 'a'"}], "mark": {"type": "text", "font": "Lato", "fontSize": 26, "lineHeight": 32, "lineBreak": "\n", "align": "center", "dy": 3.5, "color": "#111111"}, "encoding": {"text": {"field": "caption", "type": "nominal"}}}
]},

{"spacing": 0, "bounds": "flush", "vconcat": [
{"width": 329, "height": 160, "data": {"name": "rows"}, "transform": [{"filter": "datum.p == 'b' && datum.test == 'FIBTEM'"}],
"layer": [
{"layer": [
{"layer": [
{"transform": [{"filter": "datum.kind == 'head'"}], "mark": {"type": "rule", "color": "#a8d4c0", "strokeWidth": 0.8, "strokeDash": [2, 2]}, "encoding": {"x": {"datum": 0, "type": "quantitative", "axis": null}, "x2": {"datum": 3600}, "y": {"datum": 40, "type": "quantitative", "axis": null}}},
{"transform": [{"filter": "datum.kind == 'curve'"}], "mark": "area", "encoding": {"x": {"field": "t", "type": "quantitative", "scale": {"domain": [0, 3600], "range": [12, 178], "nice": false, "zero": false}, "axis": null}, "y": {"field": "amp", "type": "quantitative", "stack": null, "scale": {"domain": [0, 96], "range": [59, 14], "nice": false, "zero": false}, "axis": null}, "y2": {"datum": 0}, "color": {"field": "ph", "type": "nominal", "scale": {"domain": ["CFT", "MCF"], "range": ["#e0569a", "#2b5db2"]}, "legend": null}}},
{"transform": [{"filter": "datum.kind == 'head'"}], "mark": {"type": "rule", "color": "#3f9c52", "strokeWidth": 1.5}, "encoding": {"x": {"field": "ct", "type": "quantitative", "axis": null}, "x2": {"datum": 0}, "y": {"datum": 0, "type": "quantitative", "axis": null}}},
{"transform": [{"filter": "datum.kind == 'head'"}], "mark": {"type": "rule", "color": "#8a8a8a", "strokeWidth": 1}, "encoding": {"x": {"datum": 0, "type": "quantitative", "axis": null}, "y": {"datum": 0, "type": "quantitative", "axis": null}, "y2": {"datum": 96}}},
{"data": {"name": "yticks"}, "mark": {"type": "text", "font": "DejaVu Sans", "fontSize": 5, "color": "#555555", "align": "right", "dx": -2}, "encoding": {"x": {"datum": 0, "type": "quantitative", "axis": null}, "y": {"field": "v", "type": "quantitative", "axis": null}, "text": {"field": "lab", "type": "nominal"}}}
]},
{"layer": [
{"transform": [{"filter": "datum.kind == 'head'"}], "mark": {"type": "rule", "color": "#a8d4c0", "strokeWidth": 0.8, "strokeDash": [2, 2]}, "encoding": {"x": {"datum": 0, "type": "quantitative", "axis": null}, "x2": {"datum": 3600}, "y": {"datum": 40, "type": "quantitative", "axis": null}}},
{"transform": [{"filter": "datum.kind == 'curve'"}], "mark": "area", "encoding": {"x": {"field": "t", "type": "quantitative", "axis": null}, "y": {"field": "amp", "type": "quantitative", "stack": null, "scale": {"domain": [0, 100], "range": [59, 106], "nice": false, "zero": false}, "axis": null}, "y2": {"datum": 0}, "color": {"field": "ph", "type": "nominal", "legend": null}}},
{"transform": [{"filter": "datum.kind == 'head'"}], "mark": {"type": "rule", "color": "#8a8a8a", "strokeWidth": 1}, "encoding": {"x": {"datum": 0, "type": "quantitative", "axis": null}, "y": {"datum": 0, "type": "quantitative", "axis": null}, "y2": {"datum": 100}}},
{"transform": [{"filter": "datum.kind == 'head'"}], "mark": {"type": "rule", "color": "#8a8a8a", "strokeWidth": 1}, "encoding": {"x": {"datum": 0, "type": "quantitative", "axis": null}, "x2": {"datum": 3600}, "y": {"datum": 100, "type": "quantitative", "axis": null}}},
{"data": {"name": "yticks"}, "transform": [{"filter": "datum.v < 90"}], "mark": {"type": "text", "font": "DejaVu Sans", "fontSize": 5, "color": "#555555", "align": "right", "dx": -2}, "encoding": {"x": {"datum": 0, "type": "quantitative", "axis": null}, "y": {"field": "v", "type": "quantitative", "axis": null}, "text": {"field": "lab", "type": "nominal"}}},
{"data": {"name": "xticks"}, "mark": {"type": "text", "font": "DejaVu Sans", "fontSize": 5, "color": "#555555", "align": "center", "baseline": "top", "dy": 3}, "encoding": {"x": {"field": "v", "type": "quantitative", "axis": null}, "y": {"datum": 100, "type": "quantitative", "axis": null}, "text": {"field": "lab", "type": "nominal"}}}
]}
], "resolve": {"scale": {"y": "independent"}}},
{"transform": [{"filter": "datum.kind == 'param'"}],
"encoding": {"y": {"field": "param", "type": "ordinal", "scale": {"type": "point", "domain": ["CT", "CFT", "A5", "A10", "A20", "A30", "MCF", "LI30", "LI45", "LI60"], "range": [56, 140], "padding": 0}, "axis": null}},
"layer": [
{"mark": {"type": "text", "align": "left"}, "encoding": {"x": {"datum": 0, "type": "quantitative", "scale": {"domain": [0, 20], "range": [201, 329], "nice": false, "zero": false}, "axis": null}, "text": {"field": "param", "type": "nominal"}}},
{"mark": {"type": "text", "align": "center"}, "encoding": {"x": {"datum": 7.3, "type": "quantitative", "axis": null}, "text": {"value": ":"}}},
{"transform": [{"filter": "isValid(datum.val)"}], "mark": {"type": "text", "align": "right"}, "encoding": {"x": {"datum": 13.6, "type": "quantitative", "axis": null}, "text": {"field": "val", "type": "nominal"}}},
{"mark": {"type": "text", "align": "right"}, "encoding": {"x": {"datum": 20, "type": "quantitative", "axis": null}, "text": {"field": "unit", "type": "nominal"}}}
]},
{"transform": [{"filter": "datum.kind == 'head'"}],
"layer": [
{"mark": {"type": "text", "font": "DejaVu Sans", "fontSize": 17, "align": "center", "color": "#333333"}, "encoding": {"x": {"datum": 1.4, "type": "quantitative", "scale": {"domain": [0, 20], "range": [201, 329], "nice": false, "zero": false}, "axis": null}, "y": {"datum": -3.16, "type": "quantitative", "scale": {"domain": [0, 9], "range": [56, 140], "nice": false, "zero": false}, "axis": null}, "text": {"field": "num", "type": "nominal"}}},
{"mark": {"type": "text", "fontSize": 6.5, "align": "left"}, "encoding": {"x": {"datum": 4.06, "type": "quantitative", "axis": null}, "y": {"datum": -4.23, "type": "quantitative", "axis": null}, "text": {"field": "name", "type": "nominal"}}},
{"mark": {"type": "rule", "color": "#444444", "strokeWidth": 1}, "encoding": {"x": {"datum": 3.3, "type": "quantitative", "axis": null}, "y": {"datum": -4.61, "type": "quantitative", "axis": null}, "y2": {"datum": -1.82}}},
{"mark": {"type": "rule", "color": "#444444", "strokeWidth": 1.5}, "encoding": {"x": {"datum": -0.16, "type": "quantitative", "axis": null}, "x2": {"datum": 20}, "y": {"datum": -1.82, "type": "quantitative", "axis": null}}},
{"mark": {"type": "rule", "color": "#777777", "strokeWidth": 1}, "encoding": {"x": {"datum": -0.16, "type": "quantitative", "axis": null}, "x2": {"datum": 20}, "y": {"datum": -0.48, "type": "quantitative", "axis": null}}}
]}
], "resolve": {"scale": {"x": "independent", "y": "independent"}}},

{"width": 329, "height": 160, "data": {"name": "rows"}, "transform": [{"filter": "datum.p == 'b' && datum.test == 'EXTEM'"}],
"layer": [
{"layer": [
{"layer": [
{"transform": [{"filter": "datum.kind == 'head'"}], "mark": {"type": "rule", "color": "#a8d4c0", "strokeWidth": 0.8, "strokeDash": [2, 2]}, "encoding": {"x": {"datum": 0, "type": "quantitative", "axis": null}, "x2": {"datum": 3600}, "y": {"datum": 40, "type": "quantitative", "axis": null}}},
{"transform": [{"filter": "datum.kind == 'curve'"}], "mark": "area", "encoding": {"x": {"field": "t", "type": "quantitative", "scale": {"domain": [0, 3600], "range": [12, 178], "nice": false, "zero": false}, "axis": null}, "y": {"field": "amp", "type": "quantitative", "stack": null, "scale": {"domain": [0, 96], "range": [60, 16], "nice": false, "zero": false}, "axis": null}, "y2": {"datum": 0}, "color": {"field": "ph", "type": "nominal", "scale": {"domain": ["CFT", "MCF"], "range": ["#e0569a", "#2b5db2"]}, "legend": null}}},
{"transform": [{"filter": "datum.kind == 'head'"}], "mark": {"type": "rule", "color": "#3f9c52", "strokeWidth": 1.5}, "encoding": {"x": {"field": "ct", "type": "quantitative", "axis": null}, "x2": {"datum": 0}, "y": {"datum": 0, "type": "quantitative", "axis": null}}},
{"transform": [{"filter": "datum.kind == 'head'"}], "mark": {"type": "rule", "color": "#8a8a8a", "strokeWidth": 1}, "encoding": {"x": {"datum": 0, "type": "quantitative", "axis": null}, "y": {"datum": 0, "type": "quantitative", "axis": null}, "y2": {"datum": 96}}},
{"data": {"name": "yticks"}, "mark": {"type": "text", "font": "DejaVu Sans", "fontSize": 5, "color": "#555555", "align": "right", "dx": -2}, "encoding": {"x": {"datum": 0, "type": "quantitative", "axis": null}, "y": {"field": "v", "type": "quantitative", "axis": null}, "text": {"field": "lab", "type": "nominal"}}}
]},
{"layer": [
{"transform": [{"filter": "datum.kind == 'head'"}], "mark": {"type": "rule", "color": "#a8d4c0", "strokeWidth": 0.8, "strokeDash": [2, 2]}, "encoding": {"x": {"datum": 0, "type": "quantitative", "axis": null}, "x2": {"datum": 3600}, "y": {"datum": 40, "type": "quantitative", "axis": null}}},
{"transform": [{"filter": "datum.kind == 'curve'"}], "mark": "area", "encoding": {"x": {"field": "t", "type": "quantitative", "axis": null}, "y": {"field": "amp", "type": "quantitative", "stack": null, "scale": {"domain": [0, 100], "range": [60, 105], "nice": false, "zero": false}, "axis": null}, "y2": {"datum": 0}, "color": {"field": "ph", "type": "nominal", "legend": null}}},
{"transform": [{"filter": "datum.kind == 'head'"}], "mark": {"type": "rule", "color": "#8a8a8a", "strokeWidth": 1}, "encoding": {"x": {"datum": 0, "type": "quantitative", "axis": null}, "y": {"datum": 0, "type": "quantitative", "axis": null}, "y2": {"datum": 100}}},
{"transform": [{"filter": "datum.kind == 'head'"}], "mark": {"type": "rule", "color": "#8a8a8a", "strokeWidth": 1}, "encoding": {"x": {"datum": 0, "type": "quantitative", "axis": null}, "x2": {"datum": 3600}, "y": {"datum": 100, "type": "quantitative", "axis": null}}},
{"data": {"name": "yticks"}, "transform": [{"filter": "datum.v < 90"}], "mark": {"type": "text", "font": "DejaVu Sans", "fontSize": 5, "color": "#555555", "align": "right", "dx": -2}, "encoding": {"x": {"datum": 0, "type": "quantitative", "axis": null}, "y": {"field": "v", "type": "quantitative", "axis": null}, "text": {"field": "lab", "type": "nominal"}}},
{"data": {"name": "xticks"}, "mark": {"type": "text", "font": "DejaVu Sans", "fontSize": 5, "color": "#555555", "align": "center", "baseline": "top", "dy": 3}, "encoding": {"x": {"field": "v", "type": "quantitative", "axis": null}, "y": {"datum": 100, "type": "quantitative", "axis": null}, "text": {"field": "lab", "type": "nominal"}}}
]}
], "resolve": {"scale": {"y": "independent"}}},
{"transform": [{"filter": "datum.kind == 'param'"}],
"encoding": {"y": {"field": "param", "type": "ordinal", "scale": {"type": "point", "domain": ["CT", "CFT", "A5", "A10", "A20", "A30", "MCF", "LI30", "LI45", "LI60"], "range": [56, 140], "padding": 0}, "axis": null}},
"layer": [
{"mark": {"type": "text", "align": "left"}, "encoding": {"x": {"datum": 0, "type": "quantitative", "scale": {"domain": [0, 20], "range": [201, 329], "nice": false, "zero": false}, "axis": null}, "text": {"field": "param", "type": "nominal"}}},
{"mark": {"type": "text", "align": "center"}, "encoding": {"x": {"datum": 7.3, "type": "quantitative", "axis": null}, "text": {"value": ":"}}},
{"transform": [{"filter": "isValid(datum.val)"}], "mark": {"type": "text", "align": "right"}, "encoding": {"x": {"datum": 13.6, "type": "quantitative", "axis": null}, "text": {"field": "val", "type": "nominal"}}},
{"mark": {"type": "text", "align": "right"}, "encoding": {"x": {"datum": 20, "type": "quantitative", "axis": null}, "text": {"field": "unit", "type": "nominal"}}}
]},
{"transform": [{"filter": "datum.kind == 'head'"}],
"layer": [
{"mark": {"type": "text", "font": "DejaVu Sans", "fontSize": 17, "align": "center", "color": "#333333"}, "encoding": {"x": {"datum": 1.4, "type": "quantitative", "scale": {"domain": [0, 20], "range": [201, 329], "nice": false, "zero": false}, "axis": null}, "y": {"datum": -3.16, "type": "quantitative", "scale": {"domain": [0, 9], "range": [56, 140], "nice": false, "zero": false}, "axis": null}, "text": {"field": "num", "type": "nominal"}}},
{"mark": {"type": "text", "fontSize": 6.5, "align": "left"}, "encoding": {"x": {"datum": 4.06, "type": "quantitative", "axis": null}, "y": {"datum": -4.23, "type": "quantitative", "axis": null}, "text": {"field": "name", "type": "nominal"}}},
{"mark": {"type": "rule", "color": "#444444", "strokeWidth": 1}, "encoding": {"x": {"datum": 3.3, "type": "quantitative", "axis": null}, "y": {"datum": -4.61, "type": "quantitative", "axis": null}, "y2": {"datum": -1.82}}},
{"mark": {"type": "rule", "color": "#444444", "strokeWidth": 1.5}, "encoding": {"x": {"datum": -0.16, "type": "quantitative", "axis": null}, "x2": {"datum": 20}, "y": {"datum": -1.82, "type": "quantitative", "axis": null}}},
{"mark": {"type": "rule", "color": "#777777", "strokeWidth": 1}, "encoding": {"x": {"datum": -0.16, "type": "quantitative", "axis": null}, "x2": {"datum": 20}, "y": {"datum": -0.48, "type": "quantitative", "axis": null}}}
]}
], "resolve": {"scale": {"x": "independent", "y": "independent"}}},

{"width": 329, "height": 160, "data": {"name": "rows"}, "transform": [{"filter": "datum.p == 'b' && datum.test == 'INTEM'"}],
"layer": [
{"layer": [
{"layer": [
{"transform": [{"filter": "datum.kind == 'head'"}], "mark": {"type": "rule", "color": "#a8d4c0", "strokeWidth": 0.8, "strokeDash": [2, 2]}, "encoding": {"x": {"datum": 0, "type": "quantitative", "axis": null}, "x2": {"datum": 3600}, "y": {"datum": 40, "type": "quantitative", "axis": null}}},
{"transform": [{"filter": "datum.kind == 'curve'"}], "mark": "area", "encoding": {"x": {"field": "t", "type": "quantitative", "scale": {"domain": [0, 3600], "range": [12, 178], "nice": false, "zero": false}, "axis": null}, "y": {"field": "amp", "type": "quantitative", "stack": null, "scale": {"domain": [0, 96], "range": [61, 16], "nice": false, "zero": false}, "axis": null}, "y2": {"datum": 0}, "color": {"field": "ph", "type": "nominal", "scale": {"domain": ["CFT", "MCF"], "range": ["#e0569a", "#2b5db2"]}, "legend": null}}},
{"transform": [{"filter": "datum.kind == 'head'"}], "mark": {"type": "rule", "color": "#3f9c52", "strokeWidth": 1.5}, "encoding": {"x": {"field": "ct", "type": "quantitative", "axis": null}, "x2": {"datum": 0}, "y": {"datum": 0, "type": "quantitative", "axis": null}}},
{"transform": [{"filter": "datum.kind == 'head'"}], "mark": {"type": "rule", "color": "#8a8a8a", "strokeWidth": 1}, "encoding": {"x": {"datum": 0, "type": "quantitative", "axis": null}, "y": {"datum": 0, "type": "quantitative", "axis": null}, "y2": {"datum": 96}}},
{"data": {"name": "yticks"}, "mark": {"type": "text", "font": "DejaVu Sans", "fontSize": 5, "color": "#555555", "align": "right", "dx": -2}, "encoding": {"x": {"datum": 0, "type": "quantitative", "axis": null}, "y": {"field": "v", "type": "quantitative", "axis": null}, "text": {"field": "lab", "type": "nominal"}}}
]},
{"layer": [
{"transform": [{"filter": "datum.kind == 'head'"}], "mark": {"type": "rule", "color": "#a8d4c0", "strokeWidth": 0.8, "strokeDash": [2, 2]}, "encoding": {"x": {"datum": 0, "type": "quantitative", "axis": null}, "x2": {"datum": 3600}, "y": {"datum": 40, "type": "quantitative", "axis": null}}},
{"transform": [{"filter": "datum.kind == 'curve'"}], "mark": "area", "encoding": {"x": {"field": "t", "type": "quantitative", "axis": null}, "y": {"field": "amp", "type": "quantitative", "stack": null, "scale": {"domain": [0, 100], "range": [61, 106], "nice": false, "zero": false}, "axis": null}, "y2": {"datum": 0}, "color": {"field": "ph", "type": "nominal", "legend": null}}},
{"transform": [{"filter": "datum.kind == 'head'"}], "mark": {"type": "rule", "color": "#8a8a8a", "strokeWidth": 1}, "encoding": {"x": {"datum": 0, "type": "quantitative", "axis": null}, "y": {"datum": 0, "type": "quantitative", "axis": null}, "y2": {"datum": 100}}},
{"transform": [{"filter": "datum.kind == 'head'"}], "mark": {"type": "rule", "color": "#8a8a8a", "strokeWidth": 1}, "encoding": {"x": {"datum": 0, "type": "quantitative", "axis": null}, "x2": {"datum": 3600}, "y": {"datum": 100, "type": "quantitative", "axis": null}}},
{"data": {"name": "yticks"}, "transform": [{"filter": "datum.v < 90"}], "mark": {"type": "text", "font": "DejaVu Sans", "fontSize": 5, "color": "#555555", "align": "right", "dx": -2}, "encoding": {"x": {"datum": 0, "type": "quantitative", "axis": null}, "y": {"field": "v", "type": "quantitative", "axis": null}, "text": {"field": "lab", "type": "nominal"}}},
{"data": {"name": "xticks"}, "mark": {"type": "text", "font": "DejaVu Sans", "fontSize": 5, "color": "#555555", "align": "center", "baseline": "top", "dy": 3}, "encoding": {"x": {"field": "v", "type": "quantitative", "axis": null}, "y": {"datum": 100, "type": "quantitative", "axis": null}, "text": {"field": "lab", "type": "nominal"}}}
]}
], "resolve": {"scale": {"y": "independent"}}},
{"transform": [{"filter": "datum.kind == 'param'"}],
"encoding": {"y": {"field": "param", "type": "ordinal", "scale": {"type": "point", "domain": ["CT", "CFT", "A5", "A10", "A20", "A30", "MCF", "LI30", "LI45", "LI60"], "range": [56, 140], "padding": 0}, "axis": null}},
"layer": [
{"mark": {"type": "text", "align": "left"}, "encoding": {"x": {"datum": 0, "type": "quantitative", "scale": {"domain": [0, 20], "range": [201, 329], "nice": false, "zero": false}, "axis": null}, "text": {"field": "param", "type": "nominal"}}},
{"mark": {"type": "text", "align": "center"}, "encoding": {"x": {"datum": 7.3, "type": "quantitative", "axis": null}, "text": {"value": ":"}}},
{"transform": [{"filter": "isValid(datum.val)"}], "mark": {"type": "text", "align": "right"}, "encoding": {"x": {"datum": 13.6, "type": "quantitative", "axis": null}, "text": {"field": "val", "type": "nominal"}}},
{"mark": {"type": "text", "align": "right", "clip": true}, "encoding": {"x": {"datum": 20, "type": "quantitative", "axis": null}, "text": {"field": "unit", "type": "nominal"}}}
]},
{"transform": [{"filter": "datum.kind == 'head'"}],
"layer": [
{"mark": {"type": "text", "font": "DejaVu Sans", "fontSize": 17, "align": "center", "color": "#333333"}, "encoding": {"x": {"datum": 1.4, "type": "quantitative", "scale": {"domain": [0, 20], "range": [201, 329], "nice": false, "zero": false}, "axis": null}, "y": {"datum": -3.16, "type": "quantitative", "scale": {"domain": [0, 9], "range": [56, 140], "nice": false, "zero": false}, "axis": null}, "text": {"field": "num", "type": "nominal"}}},
{"mark": {"type": "text", "fontSize": 6.5, "align": "left"}, "encoding": {"x": {"datum": 4.06, "type": "quantitative", "axis": null}, "y": {"datum": -4.23, "type": "quantitative", "axis": null}, "text": {"field": "name", "type": "nominal"}}},
{"mark": {"type": "rule", "color": "#444444", "strokeWidth": 1}, "encoding": {"x": {"datum": 3.3, "type": "quantitative", "axis": null}, "y": {"datum": -4.61, "type": "quantitative", "axis": null}, "y2": {"datum": -1.82}}},
{"mark": {"type": "rule", "color": "#444444", "strokeWidth": 1.5}, "encoding": {"x": {"datum": -0.16, "type": "quantitative", "axis": null}, "x2": {"datum": 20}, "y": {"datum": -1.82, "type": "quantitative", "axis": null}}},
{"mark": {"type": "rule", "color": "#777777", "strokeWidth": 1}, "encoding": {"x": {"datum": -0.16, "type": "quantitative", "axis": null}, "x2": {"datum": 20}, "y": {"datum": -0.48, "type": "quantitative", "axis": null}}}
]}
], "resolve": {"scale": {"x": "independent", "y": "independent"}}},

{"width": 329, "height": 5, "data": {"values": [{}]}, "mark": {"type": "text"}, "encoding": {"text": {"value": ""}}},
{"width": 329, "height": 105, "view": {"stroke": null}, "data": {"name": "caps"}, "transform": [{"filter": "datum.p == 'b'"}], "mark": {"type": "text", "font": "Lato", "fontSize": 26, "lineHeight": 32, "lineBreak": "\n", "align": "center", "dy": 3.5, "color": "#111111"}, "encoding": {"text": {"field": "caption", "type": "nominal"}}}
]},

{"spacing": 0, "bounds": "flush", "vconcat": [
{"width": 410, "height": 8, "data": {"values": [{}]}, "mark": {"type": "text"}, "encoding": {"text": {"value": ""}}},

{"width": 410, "height": 159, "data": {"name": "rows"}, "transform": [{"filter": "datum.p == 'c' && datum.test == 'FIBTEM'"}],
"layer": [
{"layer": [
{"layer": [
{"transform": [{"filter": "datum.kind == 'head'"}], "mark": {"type": "rule", "color": "#a8d4c0", "strokeWidth": 0.8, "strokeDash": [2, 2]}, "encoding": {"x": {"datum": 0, "type": "quantitative", "axis": null}, "x2": {"datum": 3600}, "y": {"datum": 40, "type": "quantitative", "axis": null}}},
{"transform": [{"filter": "datum.kind == 'curve'"}], "mark": "area", "encoding": {"x": {"field": "t", "type": "quantitative", "scale": {"domain": [0, 3600], "range": [11, 174], "nice": false, "zero": false}, "axis": null}, "y": {"field": "amp", "type": "quantitative", "stack": null, "scale": {"domain": [0, 96], "range": [58, 13], "nice": false, "zero": false}, "axis": null}, "y2": {"datum": 0}, "color": {"field": "ph", "type": "nominal", "scale": {"domain": ["CFT", "MCF"], "range": ["#e0569a", "#2b5db2"]}, "legend": null}}},
{"transform": [{"filter": "datum.kind == 'head'"}], "mark": {"type": "rule", "color": "#3f9c52", "strokeWidth": 1.5}, "encoding": {"x": {"field": "ct", "type": "quantitative", "axis": null}, "x2": {"datum": 0}, "y": {"datum": 0, "type": "quantitative", "axis": null}}},
{"transform": [{"filter": "datum.kind == 'head'"}], "mark": {"type": "rule", "color": "#8a8a8a", "strokeWidth": 1}, "encoding": {"x": {"datum": 0, "type": "quantitative", "axis": null}, "y": {"datum": 0, "type": "quantitative", "axis": null}, "y2": {"datum": 96}}},
{"data": {"name": "yticks"}, "mark": {"type": "text", "font": "DejaVu Sans", "fontSize": 5, "color": "#555555", "align": "right", "dx": -2}, "encoding": {"x": {"datum": 0, "type": "quantitative", "axis": null}, "y": {"field": "v", "type": "quantitative", "axis": null}, "text": {"field": "lab", "type": "nominal"}}}
]},
{"layer": [
{"transform": [{"filter": "datum.kind == 'head'"}], "mark": {"type": "rule", "color": "#a8d4c0", "strokeWidth": 0.8, "strokeDash": [2, 2]}, "encoding": {"x": {"datum": 0, "type": "quantitative", "axis": null}, "x2": {"datum": 3600}, "y": {"datum": 40, "type": "quantitative", "axis": null}}},
{"transform": [{"filter": "datum.kind == 'curve'"}], "mark": "area", "encoding": {"x": {"field": "t", "type": "quantitative", "axis": null}, "y": {"field": "amp", "type": "quantitative", "stack": null, "scale": {"domain": [0, 100], "range": [58, 104], "nice": false, "zero": false}, "axis": null}, "y2": {"datum": 0}, "color": {"field": "ph", "type": "nominal", "legend": null}}},
{"transform": [{"filter": "datum.kind == 'head'"}], "mark": {"type": "rule", "color": "#8a8a8a", "strokeWidth": 1}, "encoding": {"x": {"datum": 0, "type": "quantitative", "axis": null}, "y": {"datum": 0, "type": "quantitative", "axis": null}, "y2": {"datum": 100}}},
{"transform": [{"filter": "datum.kind == 'head'"}], "mark": {"type": "rule", "color": "#8a8a8a", "strokeWidth": 1}, "encoding": {"x": {"datum": 0, "type": "quantitative", "axis": null}, "x2": {"datum": 3600}, "y": {"datum": 100, "type": "quantitative", "axis": null}}},
{"data": {"name": "yticks"}, "transform": [{"filter": "datum.v < 90"}], "mark": {"type": "text", "font": "DejaVu Sans", "fontSize": 5, "color": "#555555", "align": "right", "dx": -2}, "encoding": {"x": {"datum": 0, "type": "quantitative", "axis": null}, "y": {"field": "v", "type": "quantitative", "axis": null}, "text": {"field": "lab", "type": "nominal"}}},
{"data": {"name": "xticks"}, "mark": {"type": "text", "font": "DejaVu Sans", "fontSize": 5, "color": "#555555", "align": "center", "baseline": "top", "dy": 3}, "encoding": {"x": {"field": "v", "type": "quantitative", "axis": null}, "y": {"datum": 100, "type": "quantitative", "axis": null}, "text": {"field": "lab", "type": "nominal"}}}
]}
], "resolve": {"scale": {"y": "independent"}}},
{"transform": [{"filter": "datum.kind == 'param'"}],
"encoding": {"y": {"field": "param", "type": "ordinal", "scale": {"type": "point", "domain": ["CT", "CFT", "A5", "A10", "A20", "A30", "MCF", "LI30", "LI45", "LI60"], "range": [57, 140], "padding": 0}, "axis": null}},
"layer": [
{"mark": {"type": "text", "align": "left"}, "encoding": {"x": {"datum": 0, "type": "quantitative", "scale": {"domain": [0, 20], "range": [201, 322], "nice": false, "zero": false}, "axis": null}, "text": {"field": "param", "type": "nominal"}}},
{"mark": {"type": "text", "align": "center"}, "encoding": {"x": {"datum": 6.9, "type": "quantitative", "axis": null}, "text": {"value": ":"}}},
{"transform": [{"filter": "isValid(datum.val)"}], "mark": {"type": "text", "align": "right"}, "encoding": {"x": {"datum": 13.7, "type": "quantitative", "axis": null}, "text": {"field": "val", "type": "nominal"}}},
{"mark": {"type": "text", "align": "right"}, "encoding": {"x": {"datum": 20, "type": "quantitative", "axis": null}, "text": {"field": "unit", "type": "nominal"}}},
{"transform": [{"filter": "isValid(datum.lo)"}], "mark": {"type": "text", "align": "center"}, "encoding": {"x": {"datum": 21.8, "type": "quantitative", "axis": null}, "text": {"value": "["}}},
{"transform": [{"filter": "isValid(datum.lo)"}], "mark": {"type": "text", "align": "right"}, "encoding": {"x": {"datum": 27.6, "type": "quantitative", "axis": null}, "text": {"field": "lo", "type": "nominal"}}},
{"transform": [{"filter": "isValid(datum.lo)"}], "mark": {"type": "text", "align": "center"}, "encoding": {"x": {"datum": 29.1, "type": "quantitative", "axis": null}, "text": {"value": "-"}}},
{"transform": [{"filter": "isValid(datum.hi)"}], "mark": {"type": "text", "align": "right", "clip": true}, "encoding": {"x": {"datum": 35, "type": "quantitative", "axis": null}, "text": {"field": "hi", "type": "nominal"}}}
]},
{"transform": [{"filter": "datum.kind == 'head'"}],
"layer": [
{"mark": {"type": "text", "font": "DejaVu Sans", "fontSize": 17, "align": "center", "color": "#333333"}, "encoding": {"x": {"datum": 0.66, "type": "quantitative", "scale": {"domain": [0, 20], "range": [201, 322], "nice": false, "zero": false}, "axis": null}, "y": {"datum": -3.2, "type": "quantitative", "scale": {"domain": [0, 9], "range": [57, 140], "nice": false, "zero": false}, "axis": null}, "text": {"field": "num", "type": "nominal"}}},
{"mark": {"type": "text", "fontSize": 6.5, "align": "left"}, "encoding": {"x": {"datum": 3.97, "type": "quantitative", "axis": null}, "y": {"datum": -4.39, "type": "quantitative", "axis": null}, "text": {"field": "name", "type": "nominal"}}},
{"mark": {"type": "text", "fontSize": 6.5, "align": "left"}, "encoding": {"x": {"datum": 24.8, "type": "quantitative", "axis": null}, "y": {"datum": -3.11, "type": "quantitative", "axis": null}, "text": {"field": "sub", "type": "nominal"}}},
{"mark": {"type": "rule", "color": "#444444", "strokeWidth": 1}, "encoding": {"x": {"datum": 2.98, "type": "quantitative", "axis": null}, "y": {"datum": -4.82, "type": "quantitative", "axis": null}, "y2": {"datum": -2.09}}},
{"mark": {"type": "rule", "color": "#444444", "strokeWidth": 1.5}, "encoding": {"x": {"datum": -0.83, "type": "quantitative", "axis": null}, "x2": {"datum": 34.5}, "y": {"datum": -2.09, "type": "quantitative", "axis": null}}},
{"mark": {"type": "rule", "color": "#777777", "strokeWidth": 1}, "encoding": {"x": {"datum": -0.83, "type": "quantitative", "axis": null}, "x2": {"datum": 34.5}, "y": {"datum": -0.64, "type": "quantitative", "axis": null}}}
]}
], "resolve": {"scale": {"x": "independent", "y": "independent"}}},

{"width": 410, "height": 159, "data": {"name": "rows"}, "transform": [{"filter": "datum.p == 'c' && datum.test == 'EXTEM'"}],
"layer": [
{"layer": [
{"layer": [
{"transform": [{"filter": "datum.kind == 'head'"}], "mark": {"type": "rule", "color": "#a8d4c0", "strokeWidth": 0.8, "strokeDash": [2, 2]}, "encoding": {"x": {"datum": 0, "type": "quantitative", "axis": null}, "x2": {"datum": 3600}, "y": {"datum": 40, "type": "quantitative", "axis": null}}},
{"transform": [{"filter": "datum.kind == 'curve'"}], "mark": "area", "encoding": {"x": {"field": "t", "type": "quantitative", "scale": {"domain": [0, 3600], "range": [11, 174], "nice": false, "zero": false}, "axis": null}, "y": {"field": "amp", "type": "quantitative", "stack": null, "scale": {"domain": [0, 96], "range": [60, 15], "nice": false, "zero": false}, "axis": null}, "y2": {"datum": 0}, "color": {"field": "ph", "type": "nominal", "scale": {"domain": ["CFT", "MCF"], "range": ["#e0569a", "#2b5db2"]}, "legend": null}}},
{"transform": [{"filter": "datum.kind == 'head'"}], "mark": {"type": "rule", "color": "#3f9c52", "strokeWidth": 1.5}, "encoding": {"x": {"field": "ct", "type": "quantitative", "axis": null}, "x2": {"datum": 0}, "y": {"datum": 0, "type": "quantitative", "axis": null}}},
{"transform": [{"filter": "datum.kind == 'head'"}], "mark": {"type": "rule", "color": "#8a8a8a", "strokeWidth": 1}, "encoding": {"x": {"datum": 0, "type": "quantitative", "axis": null}, "y": {"datum": 0, "type": "quantitative", "axis": null}, "y2": {"datum": 96}}},
{"data": {"name": "yticks"}, "mark": {"type": "text", "font": "DejaVu Sans", "fontSize": 5, "color": "#555555", "align": "right", "dx": -2}, "encoding": {"x": {"datum": 0, "type": "quantitative", "axis": null}, "y": {"field": "v", "type": "quantitative", "axis": null}, "text": {"field": "lab", "type": "nominal"}}}
]},
{"layer": [
{"transform": [{"filter": "datum.kind == 'head'"}], "mark": {"type": "rule", "color": "#a8d4c0", "strokeWidth": 0.8, "strokeDash": [2, 2]}, "encoding": {"x": {"datum": 0, "type": "quantitative", "axis": null}, "x2": {"datum": 3600}, "y": {"datum": 40, "type": "quantitative", "axis": null}}},
{"transform": [{"filter": "datum.kind == 'curve'"}], "mark": "area", "encoding": {"x": {"field": "t", "type": "quantitative", "axis": null}, "y": {"field": "amp", "type": "quantitative", "stack": null, "scale": {"domain": [0, 100], "range": [60, 107], "nice": false, "zero": false}, "axis": null}, "y2": {"datum": 0}, "color": {"field": "ph", "type": "nominal", "legend": null}}},
{"transform": [{"filter": "datum.kind == 'head'"}], "mark": {"type": "rule", "color": "#8a8a8a", "strokeWidth": 1}, "encoding": {"x": {"datum": 0, "type": "quantitative", "axis": null}, "y": {"datum": 0, "type": "quantitative", "axis": null}, "y2": {"datum": 100}}},
{"transform": [{"filter": "datum.kind == 'head'"}], "mark": {"type": "rule", "color": "#8a8a8a", "strokeWidth": 1}, "encoding": {"x": {"datum": 0, "type": "quantitative", "axis": null}, "x2": {"datum": 3600}, "y": {"datum": 100, "type": "quantitative", "axis": null}}},
{"data": {"name": "yticks"}, "transform": [{"filter": "datum.v < 90"}], "mark": {"type": "text", "font": "DejaVu Sans", "fontSize": 5, "color": "#555555", "align": "right", "dx": -2}, "encoding": {"x": {"datum": 0, "type": "quantitative", "axis": null}, "y": {"field": "v", "type": "quantitative", "axis": null}, "text": {"field": "lab", "type": "nominal"}}},
{"data": {"name": "xticks"}, "mark": {"type": "text", "font": "DejaVu Sans", "fontSize": 5, "color": "#555555", "align": "center", "baseline": "top", "dy": 3}, "encoding": {"x": {"field": "v", "type": "quantitative", "axis": null}, "y": {"datum": 100, "type": "quantitative", "axis": null}, "text": {"field": "lab", "type": "nominal"}}}
]}
], "resolve": {"scale": {"y": "independent"}}},
{"transform": [{"filter": "datum.kind == 'param'"}],
"encoding": {"y": {"field": "param", "type": "ordinal", "scale": {"type": "point", "domain": ["CT", "CFT", "A5", "A10", "A20", "A30", "MCF", "LI30", "LI45", "LI60"], "range": [58, 143], "padding": 0}, "axis": null}},
"layer": [
{"mark": {"type": "text", "align": "left"}, "encoding": {"x": {"datum": 0, "type": "quantitative", "scale": {"domain": [0, 20], "range": [201, 322], "nice": false, "zero": false}, "axis": null}, "text": {"field": "param", "type": "nominal"}}},
{"mark": {"type": "text", "align": "center"}, "encoding": {"x": {"datum": 6.9, "type": "quantitative", "axis": null}, "text": {"value": ":"}}},
{"transform": [{"filter": "isValid(datum.val)"}], "mark": {"type": "text", "align": "right"}, "encoding": {"x": {"datum": 13.7, "type": "quantitative", "axis": null}, "text": {"field": "val", "type": "nominal"}}},
{"mark": {"type": "text", "align": "right"}, "encoding": {"x": {"datum": 20, "type": "quantitative", "axis": null}, "text": {"field": "unit", "type": "nominal"}}},
{"transform": [{"filter": "isValid(datum.lo)"}], "mark": {"type": "text", "align": "center"}, "encoding": {"x": {"datum": 21.8, "type": "quantitative", "axis": null}, "text": {"value": "["}}},
{"transform": [{"filter": "isValid(datum.lo)"}], "mark": {"type": "text", "align": "right"}, "encoding": {"x": {"datum": 27.6, "type": "quantitative", "axis": null}, "text": {"field": "lo", "type": "nominal"}}},
{"transform": [{"filter": "isValid(datum.lo)"}], "mark": {"type": "text", "align": "center"}, "encoding": {"x": {"datum": 29.1, "type": "quantitative", "axis": null}, "text": {"value": "-"}}},
{"transform": [{"filter": "isValid(datum.hi)"}], "mark": {"type": "text", "align": "right", "clip": true}, "encoding": {"x": {"datum": 35, "type": "quantitative", "axis": null}, "text": {"field": "hi", "type": "nominal"}}}
]},
{"transform": [{"filter": "datum.kind == 'head'"}],
"layer": [
{"mark": {"type": "text", "font": "DejaVu Sans", "fontSize": 17, "align": "center", "color": "#333333"}, "encoding": {"x": {"datum": 0.66, "type": "quantitative", "scale": {"domain": [0, 20], "range": [201, 322], "nice": false, "zero": false}, "axis": null}, "y": {"datum": -3.2, "type": "quantitative", "scale": {"domain": [0, 9], "range": [58, 143], "nice": false, "zero": false}, "axis": null}, "text": {"field": "num", "type": "nominal"}}},
{"mark": {"type": "text", "fontSize": 6.5, "align": "left"}, "encoding": {"x": {"datum": 3.97, "type": "quantitative", "axis": null}, "y": {"datum": -4.39, "type": "quantitative", "axis": null}, "text": {"field": "name", "type": "nominal"}}},
{"mark": {"type": "text", "fontSize": 6.5, "align": "left"}, "encoding": {"x": {"datum": 24.8, "type": "quantitative", "axis": null}, "y": {"datum": -3.11, "type": "quantitative", "axis": null}, "text": {"field": "sub", "type": "nominal"}}},
{"mark": {"type": "rule", "color": "#444444", "strokeWidth": 1}, "encoding": {"x": {"datum": 2.98, "type": "quantitative", "axis": null}, "y": {"datum": -4.82, "type": "quantitative", "axis": null}, "y2": {"datum": -2.09}}},
{"mark": {"type": "rule", "color": "#444444", "strokeWidth": 1.5}, "encoding": {"x": {"datum": -0.83, "type": "quantitative", "axis": null}, "x2": {"datum": 34.5}, "y": {"datum": -2.09, "type": "quantitative", "axis": null}}},
{"mark": {"type": "rule", "color": "#777777", "strokeWidth": 1}, "encoding": {"x": {"datum": -0.83, "type": "quantitative", "axis": null}, "x2": {"datum": 34.5}, "y": {"datum": -0.64, "type": "quantitative", "axis": null}}}
]}
], "resolve": {"scale": {"x": "independent", "y": "independent"}}},

{"width": 410, "height": 159, "data": {"name": "rows"}, "transform": [{"filter": "datum.p == 'c' && datum.test == 'INTEM'"}],
"layer": [
{"layer": [
{"layer": [
{"transform": [{"filter": "datum.kind == 'head'"}], "mark": {"type": "rule", "color": "#a8d4c0", "strokeWidth": 0.8, "strokeDash": [2, 2]}, "encoding": {"x": {"datum": 0, "type": "quantitative", "axis": null}, "x2": {"datum": 3600}, "y": {"datum": 40, "type": "quantitative", "axis": null}}},
{"transform": [{"filter": "datum.kind == 'curve'"}], "mark": "area", "encoding": {"x": {"field": "t", "type": "quantitative", "scale": {"domain": [0, 3600], "range": [11, 174], "nice": false, "zero": false}, "axis": null}, "y": {"field": "amp", "type": "quantitative", "stack": null, "scale": {"domain": [0, 96], "range": [61, 16], "nice": false, "zero": false}, "axis": null}, "y2": {"datum": 0}, "color": {"field": "ph", "type": "nominal", "scale": {"domain": ["CFT", "MCF"], "range": ["#e0569a", "#2b5db2"]}, "legend": null}}},
{"transform": [{"filter": "datum.kind == 'head'"}], "mark": {"type": "rule", "color": "#3f9c52", "strokeWidth": 1.5}, "encoding": {"x": {"field": "ct", "type": "quantitative", "axis": null}, "x2": {"datum": 0}, "y": {"datum": 0, "type": "quantitative", "axis": null}}},
{"transform": [{"filter": "datum.kind == 'head'"}], "mark": {"type": "rule", "color": "#8a8a8a", "strokeWidth": 1}, "encoding": {"x": {"datum": 0, "type": "quantitative", "axis": null}, "y": {"datum": 0, "type": "quantitative", "axis": null}, "y2": {"datum": 96}}},
{"data": {"name": "yticks"}, "mark": {"type": "text", "font": "DejaVu Sans", "fontSize": 5, "color": "#555555", "align": "right", "dx": -2}, "encoding": {"x": {"datum": 0, "type": "quantitative", "axis": null}, "y": {"field": "v", "type": "quantitative", "axis": null}, "text": {"field": "lab", "type": "nominal"}}}
]},
{"layer": [
{"transform": [{"filter": "datum.kind == 'head'"}], "mark": {"type": "rule", "color": "#a8d4c0", "strokeWidth": 0.8, "strokeDash": [2, 2]}, "encoding": {"x": {"datum": 0, "type": "quantitative", "axis": null}, "x2": {"datum": 3600}, "y": {"datum": 40, "type": "quantitative", "axis": null}}},
{"transform": [{"filter": "datum.kind == 'curve'"}], "mark": "area", "encoding": {"x": {"field": "t", "type": "quantitative", "axis": null}, "y": {"field": "amp", "type": "quantitative", "stack": null, "scale": {"domain": [0, 100], "range": [61, 108], "nice": false, "zero": false}, "axis": null}, "y2": {"datum": 0}, "color": {"field": "ph", "type": "nominal", "legend": null}}},
{"transform": [{"filter": "datum.kind == 'head'"}], "mark": {"type": "rule", "color": "#8a8a8a", "strokeWidth": 1}, "encoding": {"x": {"datum": 0, "type": "quantitative", "axis": null}, "y": {"datum": 0, "type": "quantitative", "axis": null}, "y2": {"datum": 100}}},
{"transform": [{"filter": "datum.kind == 'head'"}], "mark": {"type": "rule", "color": "#8a8a8a", "strokeWidth": 1}, "encoding": {"x": {"datum": 0, "type": "quantitative", "axis": null}, "x2": {"datum": 3600}, "y": {"datum": 100, "type": "quantitative", "axis": null}}},
{"data": {"name": "yticks"}, "transform": [{"filter": "datum.v < 90"}], "mark": {"type": "text", "font": "DejaVu Sans", "fontSize": 5, "color": "#555555", "align": "right", "dx": -2}, "encoding": {"x": {"datum": 0, "type": "quantitative", "axis": null}, "y": {"field": "v", "type": "quantitative", "axis": null}, "text": {"field": "lab", "type": "nominal"}}},
{"data": {"name": "xticks"}, "mark": {"type": "text", "font": "DejaVu Sans", "fontSize": 5, "color": "#555555", "align": "center", "baseline": "top", "dy": 3}, "encoding": {"x": {"field": "v", "type": "quantitative", "axis": null}, "y": {"datum": 100, "type": "quantitative", "axis": null}, "text": {"field": "lab", "type": "nominal"}}}
]}
], "resolve": {"scale": {"y": "independent"}}},
{"transform": [{"filter": "datum.kind == 'param'"}],
"encoding": {"y": {"field": "param", "type": "ordinal", "scale": {"type": "point", "domain": ["CT", "CFT", "A5", "A10", "A20", "A30", "MCF", "LI30", "LI45", "LI60"], "range": [59, 143], "padding": 0}, "axis": null}},
"layer": [
{"mark": {"type": "text", "align": "left"}, "encoding": {"x": {"datum": 0, "type": "quantitative", "scale": {"domain": [0, 20], "range": [201, 322], "nice": false, "zero": false}, "axis": null}, "text": {"field": "param", "type": "nominal"}}},
{"mark": {"type": "text", "align": "center"}, "encoding": {"x": {"datum": 6.9, "type": "quantitative", "axis": null}, "text": {"value": ":"}}},
{"transform": [{"filter": "isValid(datum.val)"}], "mark": {"type": "text", "align": "right"}, "encoding": {"x": {"datum": 13.7, "type": "quantitative", "axis": null}, "text": {"field": "val", "type": "nominal"}}},
{"mark": {"type": "text", "align": "right"}, "encoding": {"x": {"datum": 20, "type": "quantitative", "axis": null}, "text": {"field": "unit", "type": "nominal"}}},
{"transform": [{"filter": "isValid(datum.lo)"}], "mark": {"type": "text", "align": "center"}, "encoding": {"x": {"datum": 21.8, "type": "quantitative", "axis": null}, "text": {"value": "["}}},
{"transform": [{"filter": "isValid(datum.lo)"}], "mark": {"type": "text", "align": "right"}, "encoding": {"x": {"datum": 27.6, "type": "quantitative", "axis": null}, "text": {"field": "lo", "type": "nominal"}}},
{"transform": [{"filter": "isValid(datum.lo)"}], "mark": {"type": "text", "align": "center"}, "encoding": {"x": {"datum": 29.1, "type": "quantitative", "axis": null}, "text": {"value": "-"}}},
{"transform": [{"filter": "isValid(datum.hi)"}], "mark": {"type": "text", "align": "right", "clip": true}, "encoding": {"x": {"datum": 35, "type": "quantitative", "axis": null}, "text": {"field": "hi", "type": "nominal"}}}
]},
{"transform": [{"filter": "datum.kind == 'head'"}],
"layer": [
{"mark": {"type": "text", "font": "DejaVu Sans", "fontSize": 17, "align": "center", "color": "#333333"}, "encoding": {"x": {"datum": 0.66, "type": "quantitative", "scale": {"domain": [0, 20], "range": [201, 322], "nice": false, "zero": false}, "axis": null}, "y": {"datum": -3.2, "type": "quantitative", "scale": {"domain": [0, 9], "range": [59, 143], "nice": false, "zero": false}, "axis": null}, "text": {"field": "num", "type": "nominal"}}},
{"mark": {"type": "text", "fontSize": 6.5, "align": "left"}, "encoding": {"x": {"datum": 3.97, "type": "quantitative", "axis": null}, "y": {"datum": -4.39, "type": "quantitative", "axis": null}, "text": {"field": "name", "type": "nominal"}}},
{"mark": {"type": "text", "fontSize": 6.5, "align": "left"}, "encoding": {"x": {"datum": 24.8, "type": "quantitative", "axis": null}, "y": {"datum": -3.11, "type": "quantitative", "axis": null}, "text": {"field": "sub", "type": "nominal"}}},
{"mark": {"type": "rule", "color": "#444444", "strokeWidth": 1}, "encoding": {"x": {"datum": 2.98, "type": "quantitative", "axis": null}, "y": {"datum": -4.82, "type": "quantitative", "axis": null}, "y2": {"datum": -2.09}}},
{"mark": {"type": "rule", "color": "#444444", "strokeWidth": 1.5}, "encoding": {"x": {"datum": -0.83, "type": "quantitative", "axis": null}, "x2": {"datum": 34.5}, "y": {"datum": -2.09, "type": "quantitative", "axis": null}}},
{"mark": {"type": "rule", "color": "#777777", "strokeWidth": 1}, "encoding": {"x": {"datum": -0.83, "type": "quantitative", "axis": null}, "x2": {"datum": 34.5}, "y": {"datum": -0.64, "type": "quantitative", "axis": null}}}
]}
], "resolve": {"scale": {"x": "independent", "y": "independent"}}},

{"width": 410, "height": 105, "view": {"stroke": null}, "data": {"name": "caps"}, "transform": [{"filter": "datum.p == 'c'"}], "mark": {"type": "text", "font": "Lato", "fontSize": 26, "lineHeight": 32, "lineBreak": "\n", "align": "center", "dy": 3.5, "color": "#111111"}, "encoding": {"text": {"field": "caption", "type": "nominal"}}}
]}
]
}
